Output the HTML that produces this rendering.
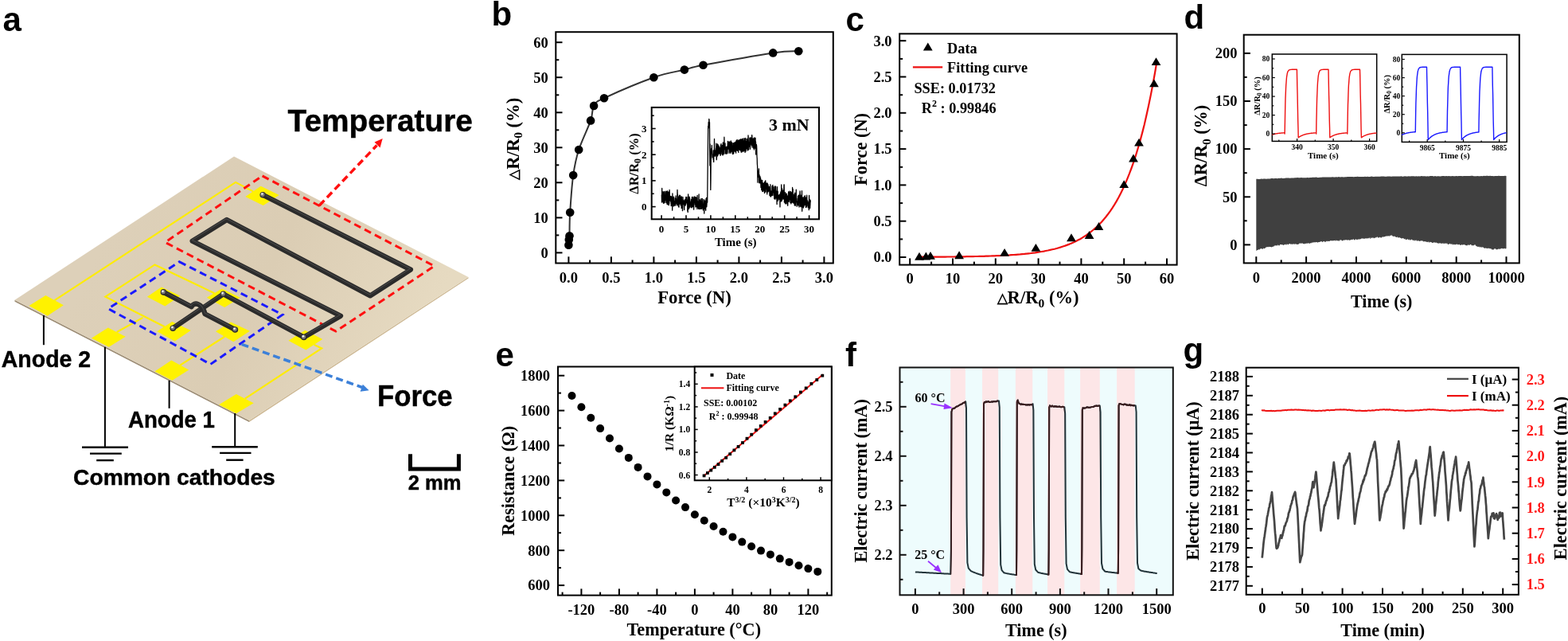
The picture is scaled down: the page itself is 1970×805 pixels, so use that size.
<!DOCTYPE html>
<html><head><meta charset="utf-8"><title>Figure</title>
<style>html,body{margin:0;padding:0;background:#fff;width:1970px;height:805px;overflow:hidden}svg{display:block}</style>
</head><body>
<svg width="1970" height="805" viewBox="0 0 1970 805">
<rect width="1970" height="805" fill="#fff"/>
<text x="3.5" y="38.5" font-family="'Liberation Sans',Arial,sans-serif" font-size="42" font-weight="bold" fill="#000" text-anchor="start" >a</text>
<text x="617.5" y="31.8" font-family="'Liberation Sans',Arial,sans-serif" font-size="42" font-weight="bold" fill="#000" text-anchor="start" >b</text>
<text x="1062.5" y="38.5" font-family="'Liberation Sans',Arial,sans-serif" font-size="42" font-weight="bold" fill="#000" text-anchor="start" >c</text>
<text x="1487.5" y="35.8" font-family="'Liberation Sans',Arial,sans-serif" font-size="42" font-weight="bold" fill="#000" text-anchor="start" >d</text>
<text x="622.5" y="459.5" font-family="'Liberation Sans',Arial,sans-serif" font-size="42" font-weight="bold" fill="#000" text-anchor="start" >e</text>
<text x="1062" y="459.8" font-family="'Liberation Sans',Arial,sans-serif" font-size="42" font-weight="bold" fill="#000" text-anchor="start" >f</text>
<text x="1486.5" y="453.5" font-family="'Liberation Sans',Arial,sans-serif" font-size="42" font-weight="bold" fill="#000" text-anchor="start" >g</text>
<polygon points="18.5,376.8 313,528 313,530 18.5,378.8" fill="#9c8c74" stroke="none" stroke-width="1" />
<polygon points="313,528 588.5,348 588.5,349.5 313,530" fill="#cdb894" stroke="none" stroke-width="1" />
<defs><linearGradient id="bd" gradientUnits="userSpaceOnUse" x1="150" y1="260" x2="520" y2="440"><stop offset="0" stop-color="#ddd0b9"/><stop offset="0.5" stop-color="#dbcdb4"/><stop offset="1" stop-color="#e6dac1"/></linearGradient></defs>
<polygon points="18.5,376.8 294,196.5 588.5,348 313,528" fill="url(#bd)" stroke="none" stroke-width="1" />
<path d="M68.6,377.1 L296.0,228.9 L318.0,240.4" stroke="#ffec00" stroke-width="2.2" fill="none" stroke-linejoin="miter"/>
<path d="M269.3,368.2 L194.5,332.4 L132.4,372.7 L206.7,410.2" stroke="#ffec00" stroke-width="2.2" fill="none" stroke-linejoin="miter"/>
<path d="M179.5,398.9 L146.8,417.0" stroke="#ffec00" stroke-width="2.2" fill="none" stroke-linejoin="miter"/>
<path d="M282.2,422.8 L226.3,458.6" stroke="#ffec00" stroke-width="2.2" fill="none" stroke-linejoin="miter"/>
<path d="M394.8,432.9 L404.2,437.5 L307.8,500.6" stroke="#ffec00" stroke-width="2.2" fill="none" stroke-linejoin="miter"/>
<polygon points="36.5,384 57.4,371 79.8,383.2 59.6,396.7" fill="#fff200" stroke="none" stroke-width="1" />
<polygon points="114.9,424.7 135.8,411.4 157.7,422.7 136.8,435.7" fill="#fff200" stroke="none" stroke-width="1" />
<polygon points="194.4,466.5 215.3,452.6 237.2,464.5 216.3,477.8" fill="#fff200" stroke="none" stroke-width="1" />
<polygon points="275,508.2 296.8,494.9 318.7,506.2 296.8,519.2" fill="#fff200" stroke="none" stroke-width="1" />
<polygon points="308.3,247.1 327.7,233.7 350.7,245 330.7,258.1" fill="#fff200" stroke="none" stroke-width="1" />
<polygon points="362.4,427.7 383.3,414.8 405.2,426.1 384.3,439.6" fill="#fff200" stroke="none" stroke-width="1" />
<polygon points="184.9,372.7 202.8,360.4 226.3,371.5 207.3,384.5" fill="#fff200" stroke="none" stroke-width="1" />
<polygon points="259.8,373.8 278.8,362.6 301.8,373.8 282.2,386.1" fill="#fff200" stroke="none" stroke-width="1" />
<polygon points="197.2,416.3 216.2,404 239.7,415.1 219.6,428.6" fill="#fff200" stroke="none" stroke-width="1" />
<polygon points="271,416.3 290,404.6 313.9,415.8 293.3,429.2" fill="#fff200" stroke="none" stroke-width="1" />
<polygon points="329.6,220.9 545.7,334.1 422,416.1 207.5,304.3" fill="none" stroke="#ff1010" stroke-width="3" stroke-dasharray="9,5.5"/>
<polygon points="225.3,328.7 355,395.2 264.5,457.4 136,387.7" fill="none" stroke="#1a1aff" stroke-width="3" stroke-dasharray="9,5.5"/>
<path d="M330.2,244.7 L515.9,338.6 L465.2,371.4 L284.9,276.0 L241.7,302.8 L428.0,396.7 L381.8,423.5" fill="none" stroke="#2b2b2b" stroke-width="6.3" stroke-linejoin="round" stroke-linecap="round"/>
<path d="M330.2,244.7 L515.9,338.6 L465.2,371.4 L284.9,276.0 L241.7,302.8 L428.0,396.7 L381.8,423.5" fill="none" stroke="#444" stroke-width="1.3" stroke-linejoin="round" stroke-linecap="round" transform="translate(-0.5,-1.4)"/>
<path d="M280.5,369.3 L381.8,423.5" fill="none" stroke="#2b2b2b" stroke-width="6.3" stroke-linejoin="round" stroke-linecap="round"/>
<path d="M280.5,369.3 L381.8,423.5" fill="none" stroke="#444" stroke-width="1.3" stroke-linejoin="round" stroke-linecap="round" transform="translate(-0.5,-1.4)"/>
<path d="M217.3,412.2 L280.5,369.3" fill="none" stroke="#2b2b2b" stroke-width="6.3" stroke-linejoin="round" stroke-linecap="round"/>
<path d="M217.3,412.2 L280.5,369.3" fill="none" stroke="#444" stroke-width="1.3" stroke-linejoin="round" stroke-linecap="round" transform="translate(-0.5,-1.4)"/>
<path d="M205.4,366.9 L240.5,385.3 C243.5,378.5 254,380.5 257.5,394.2 L295.4,414" fill="none" stroke="#2b2b2b" stroke-width="6.3" stroke-linejoin="round" stroke-linecap="round"/>
<path d="M205.4,366.9 L240.5,385.3 C243.5,378.5 254,380.5 257.5,394.2 L295.4,414" fill="none" stroke="#444" stroke-width="1.3" stroke-linejoin="round" stroke-linecap="round" transform="translate(-0.5,-1.4)"/>
<circle cx="330.2" cy="244.7" r="3.8" fill="#2e2e2e"/><circle cx="329.9" cy="244.29999999999998" r="2.6" fill="#7a7a7a"/><circle cx="329.3" cy="243.5" r="1.3" fill="#f4f4f4"/>
<circle cx="381.8" cy="423.5" r="3.8" fill="#2e2e2e"/><circle cx="381.5" cy="423.1" r="2.6" fill="#7a7a7a"/><circle cx="380.90000000000003" cy="422.3" r="1.3" fill="#f4f4f4"/>
<circle cx="205.4" cy="366.9" r="3.8" fill="#2e2e2e"/><circle cx="205.1" cy="366.5" r="2.6" fill="#7a7a7a"/><circle cx="204.5" cy="365.7" r="1.3" fill="#f4f4f4"/>
<circle cx="295.4" cy="414" r="3.8" fill="#2e2e2e"/><circle cx="295.09999999999997" cy="413.6" r="2.6" fill="#7a7a7a"/><circle cx="294.5" cy="412.8" r="1.3" fill="#f4f4f4"/>
<circle cx="217.3" cy="412.2" r="3.8" fill="#2e2e2e"/><circle cx="217.0" cy="411.8" r="2.6" fill="#7a7a7a"/><circle cx="216.4" cy="411.0" r="1.3" fill="#f4f4f4"/>
<circle cx="280.5" cy="369.3" r="3.8" fill="#2e2e2e"/><circle cx="280.2" cy="368.90000000000003" r="2.6" fill="#7a7a7a"/><circle cx="279.6" cy="368.1" r="1.3" fill="#f4f4f4"/>
<line x1="401.2" y1="258.1" x2="473.5" y2="182.5" stroke="#ff1010" stroke-width="3.5" stroke-dasharray="9,5"/>
<polygon points="480.7,174.1 470.5,178.6 477.5,185.5" fill="#ff1010"/>
<line x1="303.6" y1="432.4" x2="455" y2="486.5" stroke="#3c80d8" stroke-width="3.5" stroke-dasharray="9,5"/>
<polygon points="463.6,490.2 455.8,482.7 452.6,491.7" fill="#3c80d8"/>
<line x1="54.9" y1="396" x2="54.9" y2="433.2" stroke="#000" stroke-width="2" />
<line x1="131.9" y1="435.7" x2="131.9" y2="561.5" stroke="#000" stroke-width="2" />
<line x1="212.6" y1="477.8" x2="212.6" y2="512.8" stroke="#000" stroke-width="2" />
<line x1="295.2" y1="519" x2="295.2" y2="561.3" stroke="#000" stroke-width="2" />
<line x1="103" y1="561.7" x2="161" y2="561.7" stroke="#000" stroke-width="2.4" />
<line x1="113" y1="569.6" x2="152.8" y2="569.6" stroke="#000" stroke-width="2.4" />
<line x1="121.2" y1="578.1" x2="142.8" y2="578.1" stroke="#000" stroke-width="2.4" />
<line x1="266.2" y1="561.3" x2="323.8" y2="561.3" stroke="#000" stroke-width="2.4" />
<line x1="276.1" y1="568.9" x2="315.5" y2="568.9" stroke="#000" stroke-width="2.4" />
<line x1="284.2" y1="577.7" x2="305.6" y2="577.7" stroke="#000" stroke-width="2.4" />
<path d="M515.5,570.2 V589.1 H576.4 V570.2" fill="none" stroke="#000" stroke-width="5"/>
<text x="361.6" y="165.1" font-family="'Liberation Sans',Arial,sans-serif" font-size="39" font-weight="bold" fill="#000" text-anchor="start" textLength="232.3" lengthAdjust="spacingAndGlyphs" stroke="#000" stroke-width="0.45">Temperature</text>
<text x="474" y="509.7" font-family="'Liberation Sans',Arial,sans-serif" font-size="37.7" font-weight="bold" fill="#000" text-anchor="start" textLength="94.7" lengthAdjust="spacingAndGlyphs" stroke="#000" stroke-width="0.45">Force</text>
<text x="1.8" y="461.3" font-family="'Liberation Sans',Arial,sans-serif" font-size="29" font-weight="bold" fill="#000" text-anchor="start" textLength="112.3" lengthAdjust="spacingAndGlyphs" stroke="#000" stroke-width="0.45">Anode 2</text>
<text x="161" y="536.6" font-family="'Liberation Sans',Arial,sans-serif" font-size="29" font-weight="bold" fill="#000" text-anchor="start" textLength="108.9" lengthAdjust="spacingAndGlyphs" stroke="#000" stroke-width="0.45">Anode 1</text>
<text x="92.1" y="609.4" font-family="'Liberation Sans',Arial,sans-serif" font-size="28.5" font-weight="bold" fill="#000" text-anchor="start" textLength="253.7" lengthAdjust="spacingAndGlyphs" stroke="#000" stroke-width="0.45">Common cathodes</text>
<text x="512.8" y="614.6" font-family="'Liberation Sans',Arial,sans-serif" font-size="26.4" font-weight="bold" fill="#000" text-anchor="start" textLength="66.8" lengthAdjust="spacingAndGlyphs" stroke="#000" stroke-width="0.45">2 mm</text>
<path d="M715.5,296.3 C715.6,291.3 715.4,279.5 716.2,266.8 C717.0,254.1 718.3,233.2 720.2,220.1 C722.0,207.0 723.6,199.4 727.2,188.0 C730.9,176.5 739.0,160.6 742.1,151.4 C745.3,142.2 743.3,137.6 746.1,132.9 C748.9,128.2 746.5,129.2 759.0,123.2 C771.6,117.3 804.6,103.2 821.4,97.2 C838.2,91.3 849.6,90.1 859.9,87.6 C870.3,85.0 864.9,85.4 883.5,81.8 C902.0,78.3 951.2,69.4 971.2,66.4 C991.2,63.5 997.9,64.6 1003.3,64.2" fill="none" stroke="#333" stroke-width="2"/>
<circle cx="714.4" cy="307.7" r="5.3" fill="#000"/>
<circle cx="714.8" cy="300.9" r="5.3" fill="#000"/>
<circle cx="715.5" cy="296.3" r="5.3" fill="#000"/>
<circle cx="716.2" cy="266.8" r="5.3" fill="#000"/>
<circle cx="720.2" cy="220.1" r="5.3" fill="#000"/>
<circle cx="727.2" cy="188.0" r="5.3" fill="#000"/>
<circle cx="742.1" cy="151.4" r="5.3" fill="#000"/>
<circle cx="746.1" cy="132.9" r="5.3" fill="#000"/>
<circle cx="759.0" cy="123.2" r="5.3" fill="#000"/>
<circle cx="821.4" cy="97.2" r="5.3" fill="#000"/>
<circle cx="859.9" cy="87.6" r="5.3" fill="#000"/>
<circle cx="883.5" cy="81.8" r="5.3" fill="#000"/>
<circle cx="971.2" cy="66.4" r="5.3" fill="#000"/>
<circle cx="1003.3" cy="64.2" r="5.3" fill="#000"/>
<line x1="714.4" y1="330.5" x2="714.4" y2="322.3" stroke="#000" stroke-width="2" />
<line x1="767.9" y1="330.5" x2="767.9" y2="322.3" stroke="#000" stroke-width="2" />
<line x1="821.4" y1="330.5" x2="821.4" y2="322.3" stroke="#000" stroke-width="2" />
<line x1="874.9" y1="330.5" x2="874.9" y2="322.3" stroke="#000" stroke-width="2" />
<line x1="928.4" y1="330.5" x2="928.4" y2="322.3" stroke="#000" stroke-width="2" />
<line x1="981.9" y1="330.5" x2="981.9" y2="322.3" stroke="#000" stroke-width="2" />
<line x1="1035.4" y1="330.5" x2="1035.4" y2="322.3" stroke="#000" stroke-width="2" />
<line x1="741.1" y1="330.5" x2="741.1" y2="326.5" stroke="#000" stroke-width="2" />
<line x1="794.6" y1="330.5" x2="794.6" y2="326.5" stroke="#000" stroke-width="2" />
<line x1="848.1" y1="330.5" x2="848.1" y2="326.5" stroke="#000" stroke-width="2" />
<line x1="901.6" y1="330.5" x2="901.6" y2="326.5" stroke="#000" stroke-width="2" />
<line x1="955.1" y1="330.5" x2="955.1" y2="326.5" stroke="#000" stroke-width="2" />
<line x1="1008.6" y1="330.5" x2="1008.6" y2="326.5" stroke="#000" stroke-width="2" />
<line x1="698.3" y1="317.4" x2="706.5" y2="317.4" stroke="#000" stroke-width="2" />
<line x1="698.3" y1="273.4" x2="706.5" y2="273.4" stroke="#000" stroke-width="2" />
<line x1="698.3" y1="229.3" x2="706.5" y2="229.3" stroke="#000" stroke-width="2" />
<line x1="698.3" y1="185.3" x2="706.5" y2="185.3" stroke="#000" stroke-width="2" />
<line x1="698.3" y1="141.3" x2="706.5" y2="141.3" stroke="#000" stroke-width="2" />
<line x1="698.3" y1="97.2" x2="706.5" y2="97.2" stroke="#000" stroke-width="2" />
<line x1="698.3" y1="53.2" x2="706.5" y2="53.2" stroke="#000" stroke-width="2" />
<line x1="698.3" y1="295.4" x2="702.3" y2="295.4" stroke="#000" stroke-width="2" />
<line x1="698.3" y1="251.4" x2="702.3" y2="251.4" stroke="#000" stroke-width="2" />
<line x1="698.3" y1="207.3" x2="702.3" y2="207.3" stroke="#000" stroke-width="2" />
<line x1="698.3" y1="163.3" x2="702.3" y2="163.3" stroke="#000" stroke-width="2" />
<line x1="698.3" y1="119.3" x2="702.3" y2="119.3" stroke="#000" stroke-width="2" />
<line x1="698.3" y1="75.2" x2="702.3" y2="75.2" stroke="#000" stroke-width="2" />
<rect x="698.3" y="40.2" width="348.5" height="290.3" fill="none" stroke="#000" stroke-width="2"/>
<text x="688.7" y="323.7" font-family="'Liberation Serif','Times New Roman',serif" font-size="18.5" font-weight="bold" fill="#000" text-anchor="end" >0</text>
<text x="688.7" y="279.7" font-family="'Liberation Serif','Times New Roman',serif" font-size="18.5" font-weight="bold" fill="#000" text-anchor="end" >10</text>
<text x="688.7" y="235.6" font-family="'Liberation Serif','Times New Roman',serif" font-size="18.5" font-weight="bold" fill="#000" text-anchor="end" >20</text>
<text x="688.7" y="191.6" font-family="'Liberation Serif','Times New Roman',serif" font-size="18.5" font-weight="bold" fill="#000" text-anchor="end" >30</text>
<text x="688.7" y="147.6" font-family="'Liberation Serif','Times New Roman',serif" font-size="18.5" font-weight="bold" fill="#000" text-anchor="end" >40</text>
<text x="688.7" y="103.5" font-family="'Liberation Serif','Times New Roman',serif" font-size="18.5" font-weight="bold" fill="#000" text-anchor="end" >50</text>
<text x="688.7" y="59.5" font-family="'Liberation Serif','Times New Roman',serif" font-size="18.5" font-weight="bold" fill="#000" text-anchor="end" >60</text>
<text x="714.4" y="355" font-family="'Liberation Serif','Times New Roman',serif" font-size="18.5" font-weight="bold" fill="#000" text-anchor="middle" >0.0</text>
<text x="767.9" y="355" font-family="'Liberation Serif','Times New Roman',serif" font-size="18.5" font-weight="bold" fill="#000" text-anchor="middle" >0.5</text>
<text x="821.4" y="355" font-family="'Liberation Serif','Times New Roman',serif" font-size="18.5" font-weight="bold" fill="#000" text-anchor="middle" >1.0</text>
<text x="874.9" y="355" font-family="'Liberation Serif','Times New Roman',serif" font-size="18.5" font-weight="bold" fill="#000" text-anchor="middle" >1.5</text>
<text x="928.4" y="355" font-family="'Liberation Serif','Times New Roman',serif" font-size="18.5" font-weight="bold" fill="#000" text-anchor="middle" >2.0</text>
<text x="981.9" y="355" font-family="'Liberation Serif','Times New Roman',serif" font-size="18.5" font-weight="bold" fill="#000" text-anchor="middle" >2.5</text>
<text x="1035.4" y="355" font-family="'Liberation Serif','Times New Roman',serif" font-size="18.5" font-weight="bold" fill="#000" text-anchor="middle" >3.0</text>
<text x="872.5" y="381.2" font-family="'Liberation Serif','Times New Roman',serif" font-size="22.8" font-weight="bold" fill="#000" text-anchor="middle" >Force (N)</text>
<text transform="translate(651.7,174.3) rotate(-90)" font-family="'Liberation Serif','Times New Roman',serif" font-size="22.6" font-weight="bold" fill="#000" text-anchor="middle" ><tspan font-size="16.5" dy="-0.9">△</tspan><tspan dy="0.9">R/R</tspan><tspan dy="4.5" font-size="15.5">0</tspan><tspan dy="-4.5"> (%)</tspan></text>
<rect x="818.7" y="134.9" width="210.3" height="140.4" fill="#fff" stroke="#000" stroke-width="2"/>
<path d="M831.1,245.8 L831.3,244.8 L831.5,254.1 L831.7,236.4 L832.0,251.4 L832.2,247.4 L832.4,247.4 L832.6,253.0 L832.8,240.9 L833.0,243.1 L833.3,254.7 L833.5,245.8 L833.7,255.4 L833.9,248.0 L834.1,241.2 L834.3,240.5 L834.6,242.7 L834.8,240.4 L835.0,254.8 L835.2,252.8 L835.4,249.1 L835.6,251.5 L835.9,250.1 L836.1,246.8 L836.3,241.5 L836.5,241.1 L836.7,240.1 L836.9,254.3 L837.2,240.7 L837.4,247.5 L837.6,253.7 L837.8,247.6 L838.0,256.3 L838.2,240.6 L838.5,239.8 L838.7,255.0 L838.9,244.6 L839.1,257.0 L839.3,257.0 L839.5,252.2 L839.8,241.2 L840.0,241.0 L840.2,256.7 L840.4,257.5 L840.6,251.2 L840.8,255.5 L841.1,238.5 L841.3,242.0 L841.5,252.0 L841.7,249.6 L841.9,248.4 L842.1,248.0 L842.4,250.0 L842.6,246.4 L842.8,253.6 L843.0,249.9 L843.2,258.6 L843.4,249.0 L843.7,246.9 L843.9,258.0 L844.1,251.1 L844.3,253.1 L844.5,246.6 L844.7,264.2 L844.9,242.9 L845.2,251.6 L845.4,253.9 L845.6,254.1 L845.8,249.4 L846.0,253.1 L846.2,259.1 L846.5,247.1 L846.7,255.9 L846.9,255.7 L847.1,252.4 L847.3,258.1 L847.5,254.2 L847.8,252.5 L848.0,257.1 L848.2,249.0 L848.4,252.4 L848.6,258.1 L848.8,256.9 L849.1,246.0 L849.3,255.5 L849.5,249.4 L849.7,254.5 L849.9,255.4 L850.1,255.8 L850.4,253.4 L850.6,253.6 L850.8,257.9 L851.0,238.5 L851.2,243.9 L851.4,244.5 L851.7,257.0 L851.9,246.6 L852.1,252.0 L852.3,255.1 L852.5,259.7 L852.7,256.1 L853.0,260.2 L853.2,249.2 L853.4,245.8 L853.6,251.3 L853.8,245.1 L854.0,256.1 L854.3,252.3 L854.5,245.3 L854.7,255.5 L854.9,246.7 L855.1,248.1 L855.3,258.1 L855.6,247.6 L855.8,248.0 L856.0,247.8 L856.2,261.4 L856.4,246.9 L856.6,260.1 L856.9,252.7 L857.1,253.7 L857.3,261.7 L857.5,264.7 L857.7,260.7 L857.9,247.3 L858.2,253.3 L858.4,256.6 L858.6,251.0 L858.8,255.9 L859.0,256.4 L859.2,252.6 L859.4,255.6 L859.7,263.5 L859.9,251.9 L860.1,255.7 L860.3,251.6 L860.5,255.9 L860.7,250.3 L861.0,250.5 L861.2,258.2 L861.4,250.6 L861.6,256.2 L861.8,247.5 L862.0,256.1 L862.3,249.0 L862.5,254.6 L862.7,248.7 L862.9,247.5 L863.1,251.3 L863.3,253.1 L863.6,251.5 L863.8,265.1 L864.0,262.0 L864.2,266.5 L864.4,259.7 L864.6,243.9 L864.9,248.5 L865.1,248.7 L865.3,253.1 L865.5,262.3 L865.7,254.3 L865.9,261.2 L866.2,247.1 L866.4,259.9 L866.6,249.0 L866.8,260.0 L867.0,252.6 L867.2,256.4 L867.5,256.4 L867.7,256.1 L867.9,254.7 L868.1,256.2 L868.3,260.5 L868.5,250.4 L868.8,254.5 L869.0,252.4 L869.2,260.8 L869.4,247.3 L869.6,254.6 L869.8,251.2 L870.1,258.9 L870.3,253.5 L870.5,259.6 L870.7,247.3 L870.9,251.6 L871.1,249.1 L871.4,259.0 L871.6,263.2 L871.8,257.1 L872.0,257.5 L872.2,250.5 L872.4,246.8 L872.6,253.5 L872.9,249.6 L873.1,254.3 L873.3,251.5 L873.5,257.0 L873.7,247.5 L873.9,259.9 L874.2,251.7 L874.4,247.6 L874.6,259.8 L874.8,259.5 L875.0,252.0 L875.2,248.7 L875.5,249.3 L875.7,256.8 L875.9,262.6 L876.1,245.3 L876.3,258.0 L876.5,252.6 L876.8,260.7 L877.0,255.9 L877.2,254.2 L877.4,257.5 L877.6,262.2 L877.8,252.9 L878.1,243.9 L878.3,262.6 L878.5,257.9 L878.7,251.4 L878.9,252.8 L879.1,250.6 L879.4,251.5 L879.6,252.9 L879.8,262.4 L880.0,258.4 L880.2,252.9 L880.4,261.3 L880.7,253.7 L880.9,249.3 L881.1,262.4 L881.3,262.1 L881.5,252.2 L881.7,255.1 L882.0,256.7 L882.2,261.5 L882.4,249.4 L882.6,255.3 L882.8,258.5 L883.0,258.1 L883.3,263.9 L883.5,260.4 L883.7,258.6 L883.9,257.8 L884.1,251.6 L884.3,250.3 L884.6,263.2 L884.8,268.1 L885.0,252.4 L885.2,261.5 L885.4,252.1 L885.6,252.0 L885.9,262.3 L886.1,261.5 L886.3,255.2 L886.5,260.6 L886.7,264.3 L886.9,249.7 L887.1,258.4 L887.4,255.0 L887.6,248.3 L887.8,259.8 L888.0,256.7 L888.2,252.6 L888.4,248.2 L888.7,254.2 L888.9,235.4 L889.1,216.3 L889.3,197.5 L889.5,178.8 L889.7,158.3 L890.0,159.7 L890.2,153.3 L890.4,158.3 L890.6,160.5 L890.8,149.3 L891.0,150.1 L891.3,159.7 L891.5,153.6 L891.7,190.9 L891.9,207.9 L892.1,181.0 L892.3,203.6 L892.6,201.4 L892.8,238.4 L893.0,225.4 L893.2,200.9 L893.4,199.0 L893.6,186.7 L893.9,189.8 L894.1,190.9 L894.3,182.4 L894.5,191.4 L894.7,188.6 L894.9,193.8 L895.2,197.9 L895.4,195.0 L895.6,194.1 L895.8,194.5 L896.0,194.5 L896.2,200.8 L896.5,189.0 L896.7,203.4 L896.9,190.3 L897.1,196.3 L897.3,190.4 L897.5,174.4 L897.8,195.5 L898.0,194.2 L898.2,191.1 L898.4,196.1 L898.6,192.2 L898.8,189.0 L899.1,191.7 L899.3,192.3 L899.5,186.1 L899.7,195.1 L899.9,180.2 L900.1,196.6 L900.3,200.7 L900.6,196.0 L900.8,183.3 L901.0,193.1 L901.2,188.4 L901.4,180.8 L901.6,195.8 L901.9,186.0 L902.1,194.8 L902.3,181.8 L902.5,191.1 L902.7,184.7 L902.9,193.2 L903.2,183.7 L903.4,186.7 L903.6,189.9 L903.8,192.1 L904.0,187.8 L904.2,193.1 L904.5,185.6 L904.7,189.3 L904.9,193.2 L905.1,195.4 L905.3,182.9 L905.5,194.1 L905.8,181.3 L906.0,180.7 L906.2,188.0 L906.4,183.1 L906.6,189.2 L906.8,190.1 L907.1,193.7 L907.3,193.6 L907.5,182.3 L907.7,194.5 L907.9,184.4 L908.1,195.1 L908.4,178.8 L908.6,185.6 L908.8,181.9 L909.0,181.7 L909.2,191.9 L909.4,193.7 L909.7,193.1 L909.9,172.2 L910.1,179.8 L910.3,187.5 L910.5,180.8 L910.7,183.9 L911.0,180.0 L911.2,184.5 L911.4,192.8 L911.6,184.6 L911.8,191.1 L912.0,186.7 L912.3,193.3 L912.5,186.3 L912.7,184.4 L912.9,187.3 L913.1,184.1 L913.3,188.4 L913.6,188.6 L913.8,192.9 L914.0,191.5 L914.2,181.9 L914.4,177.4 L914.6,178.3 L914.8,187.0 L915.1,178.7 L915.3,185.8 L915.5,187.1 L915.7,178.3 L915.9,178.1 L916.1,192.3 L916.4,188.9 L916.6,183.0 L916.8,177.8 L917.0,186.4 L917.2,181.1 L917.4,188.8 L917.7,191.3 L917.9,192.3 L918.1,180.6 L918.3,176.9 L918.5,178.6 L918.7,190.7 L919.0,185.5 L919.2,184.2 L919.4,178.8 L919.6,185.4 L919.8,179.5 L920.0,189.1 L920.3,193.0 L920.5,184.1 L920.7,190.3 L920.9,193.6 L921.1,185.1 L921.3,179.6 L921.6,192.4 L921.8,192.7 L922.0,187.1 L922.2,182.9 L922.4,190.1 L922.6,179.1 L922.9,188.3 L923.1,186.4 L923.3,181.2 L923.5,178.9 L923.7,190.3 L923.9,179.1 L924.2,178.4 L924.4,187.7 L924.6,192.2 L924.8,177.2 L925.0,184.4 L925.2,176.5 L925.5,182.0 L925.7,183.4 L925.9,189.1 L926.1,175.3 L926.3,185.2 L926.5,184.4 L926.8,184.4 L927.0,189.4 L927.2,183.1 L927.4,177.5 L927.6,176.1 L927.8,191.4 L928.0,182.5 L928.3,187.1 L928.5,176.3 L928.7,178.1 L928.9,182.9 L929.1,175.3 L929.3,188.3 L929.6,188.5 L929.8,177.5 L930.0,186.9 L930.2,175.4 L930.4,184.8 L930.6,189.2 L930.9,174.7 L931.1,191.1 L931.3,189.9 L931.5,178.6 L931.7,180.5 L931.9,191.1 L932.2,174.8 L932.4,189.7 L932.6,186.5 L932.8,190.2 L933.0,174.7 L933.2,175.6 L933.5,174.0 L933.7,179.9 L933.9,189.9 L934.1,187.8 L934.3,176.8 L934.5,189.9 L934.8,181.6 L935.0,188.8 L935.2,173.8 L935.4,188.3 L935.6,188.4 L935.8,174.9 L936.1,191.4 L936.3,173.5 L936.5,186.2 L936.7,174.2 L936.9,178.4 L937.1,189.9 L937.4,177.5 L937.6,180.5 L937.8,181.0 L938.0,181.0 L938.2,186.7 L938.4,174.2 L938.7,187.0 L938.9,175.7 L939.1,185.4 L939.3,189.0 L939.5,182.9 L939.7,187.9 L940.0,170.0 L940.2,172.9 L940.4,180.8 L940.6,188.1 L940.8,182.1 L941.0,179.4 L941.3,181.0 L941.5,184.1 L941.7,179.3 L941.9,173.5 L942.1,175.2 L942.3,172.8 L942.5,187.3 L942.8,176.9 L943.0,178.3 L943.2,172.8 L943.4,181.1 L943.6,174.3 L943.8,180.1 L944.1,178.6 L944.3,182.8 L944.5,175.8 L944.7,169.6 L944.9,172.3 L945.1,185.2 L945.4,173.8 L945.6,174.1 L945.8,182.6 L946.0,180.2 L946.2,182.4 L946.4,173.8 L946.7,186.2 L946.9,182.3 L947.1,186.2 L947.3,185.5 L947.5,188.0 L947.7,172.8 L948.0,175.9 L948.2,174.1 L948.4,180.8 L948.6,186.2 L948.8,181.8 L949.0,173.1 L949.3,185.0 L949.5,178.0 L949.7,194.1 L949.9,188.0 L950.1,184.9 L950.3,181.4 L950.6,183.2 L950.8,187.4 L951.0,196.8 L951.2,198.7 L951.4,206.3 L951.6,208.2 L951.9,229.2 L952.1,219.3 L952.3,214.7 L952.5,220.6 L952.7,215.2 L952.9,222.3 L953.2,218.2 L953.4,211.9 L953.6,221.8 L953.8,229.7 L954.0,219.4 L954.2,227.5 L954.5,223.3 L954.7,229.9 L954.9,221.4 L955.1,226.9 L955.3,229.8 L955.5,223.2 L955.7,226.1 L956.0,235.6 L956.2,233.0 L956.4,226.3 L956.6,226.1 L956.8,238.7 L957.0,234.0 L957.3,237.8 L957.5,232.5 L957.7,226.4 L957.9,240.6 L958.1,234.9 L958.3,237.5 L958.6,229.8 L958.8,240.3 L959.0,234.6 L959.2,238.2 L959.4,238.9 L959.6,232.1 L959.9,229.8 L960.1,233.6 L960.3,232.2 L960.5,242.5 L960.7,228.4 L960.9,233.5 L961.2,228.0 L961.4,240.1 L961.6,226.8 L961.8,226.8 L962.0,241.3 L962.2,238.6 L962.5,234.5 L962.7,235.2 L962.9,236.6 L963.1,229.9 L963.3,236.6 L963.5,230.9 L963.8,243.9 L964.0,236.0 L964.2,230.1 L964.4,236.4 L964.6,231.4 L964.8,241.1 L965.1,231.9 L965.3,240.3 L965.5,236.6 L965.7,234.5 L965.9,240.1 L966.1,236.5 L966.4,234.3 L966.6,240.3 L966.8,240.2 L967.0,245.6 L967.2,239.4 L967.4,238.8 L967.7,246.1 L967.9,231.7 L968.1,239.0 L968.3,247.1 L968.5,242.8 L968.7,246.4 L968.9,240.2 L969.2,244.1 L969.4,245.5 L969.6,239.9 L969.8,245.1 L970.0,235.2 L970.2,233.3 L970.5,234.1 L970.7,245.5 L970.9,232.4 L971.1,236.3 L971.3,238.0 L971.5,240.9 L971.8,234.7 L972.0,241.2 L972.2,242.7 L972.4,245.8 L972.6,240.1 L972.8,249.7 L973.1,239.4 L973.3,237.4 L973.5,234.0 L973.7,238.1 L973.9,250.3 L974.1,238.0 L974.4,247.7 L974.6,234.1 L974.8,242.9 L975.0,248.9 L975.2,239.9 L975.4,248.9 L975.7,240.8 L975.9,249.5 L976.1,256.5 L976.3,245.2 L976.5,234.7 L976.7,247.7 L977.0,252.4 L977.2,240.2 L977.4,252.0 L977.6,246.9 L977.8,251.0 L978.0,246.0 L978.3,245.1 L978.5,247.3 L978.7,245.1 L978.9,247.1 L979.1,246.0 L979.3,250.4 L979.6,243.8 L979.8,248.4 L980.0,259.9 L980.2,250.3 L980.4,249.1 L980.6,243.3 L980.9,241.0 L981.1,246.5 L981.3,253.0 L981.5,245.4 L981.7,231.9 L981.9,243.4 L982.2,252.2 L982.4,251.6 L982.6,237.0 L982.8,245.9 L983.0,250.4 L983.2,247.5 L983.4,246.9 L983.7,239.5 L983.9,239.1 L984.1,240.7 L984.3,246.9 L984.5,249.9 L984.7,244.3 L985.0,231.8 L985.2,231.9 L985.4,254.1 L985.6,246.3 L985.8,246.7 L986.0,254.3 L986.3,246.8 L986.5,255.8 L986.7,241.6 L986.9,248.6 L987.1,246.2 L987.3,248.0 L987.6,255.8 L987.8,243.3 L988.0,248.0 L988.2,250.1 L988.4,243.4 L988.6,248.2 L988.9,250.7 L989.1,256.2 L989.3,246.0 L989.5,253.6 L989.7,258.3 L989.9,252.5 L990.2,247.1 L990.4,249.5 L990.6,240.9 L990.8,250.8 L991.0,252.5 L991.2,253.3 L991.5,246.7 L991.7,244.6 L991.9,240.2 L992.1,250.9 L992.3,250.0 L992.5,250.7 L992.8,245.1 L993.0,254.4 L993.2,243.7 L993.4,240.6 L993.6,244.3 L993.8,255.9 L994.1,241.4 L994.3,243.0 L994.5,250.5 L994.7,254.5 L994.9,250.9 L995.1,250.5 L995.4,253.9 L995.6,235.4 L995.8,251.7 L996.0,253.6 L996.2,237.5 L996.4,254.8 L996.6,254.7 L996.9,252.9 L997.1,255.0 L997.3,249.0 L997.5,250.0 L997.7,244.2 L997.9,245.7 L998.2,257.8 L998.4,255.5 L998.6,242.1 L998.8,243.1 L999.0,257.2 L999.2,258.3 L999.5,254.7 L999.7,242.7 L999.9,243.2 L1000.1,247.8 L1000.3,238.1 L1000.5,253.5 L1000.8,249.2 L1001.0,257.5 L1001.2,259.3 L1001.4,253.7 L1001.6,254.0 L1001.8,256.9 L1002.1,252.7 L1002.3,254.8 L1002.5,246.3 L1002.7,246.5 L1002.9,258.0 L1003.1,245.2 L1003.4,253.4 L1003.6,245.3 L1003.8,253.9 L1004.0,260.1 L1004.2,251.9 L1004.4,252.4 L1004.7,247.8 L1004.9,243.1 L1005.1,240.0 L1005.3,246.5 L1005.5,259.2 L1005.7,245.8 L1006.0,245.2 L1006.2,259.8 L1006.4,258.9 L1006.6,252.8 L1006.8,246.8 L1007.0,248.9 L1007.3,251.2 L1007.5,239.7 L1007.7,265.3 L1007.9,256.1 L1008.1,260.5 L1008.3,248.4 L1008.6,251.9 L1008.8,257.4 L1009.0,248.1 L1009.2,247.7 L1009.4,261.0 L1009.6,251.8 L1009.9,257.5 L1010.1,259.1 L1010.3,253.5 L1010.5,249.6 L1010.7,248.6 L1010.9,246.3 L1011.1,257.4 L1011.4,245.7 L1011.6,254.7 L1011.8,249.3 L1012.0,255.7 L1012.2,248.0 L1012.4,260.4 L1012.7,248.9 L1012.9,254.6 L1013.1,254.2 L1013.3,260.1 L1013.5,251.3 L1013.7,245.2 L1014.0,253.9 L1014.2,251.4 L1014.4,253.3 L1014.6,253.4 L1014.8,258.7 L1015.0,256.8 L1015.3,260.8 L1015.5,254.3 L1015.7,258.6 L1015.9,259.9 L1016.1,252.1 L1016.3,263.7 L1016.6,245.4 L1016.8,252.3 L1017.0,250.7 L1017.2,250.5 L1017.4,255.5 L1017.6,261.7 L1017.9,256.8 L1018.1,251.5 L1018.3,253.8" fill="none" stroke="#000" stroke-width="1.3" stroke-linejoin="round" />
<line x1="831.1" y1="275.3" x2="831.1" y2="270.3" stroke="#000" stroke-width="1.6" />
<line x1="862" y1="275.3" x2="862" y2="270.3" stroke="#000" stroke-width="1.6" />
<line x1="892.9" y1="275.3" x2="892.9" y2="270.3" stroke="#000" stroke-width="1.6" />
<line x1="923.8" y1="275.3" x2="923.8" y2="270.3" stroke="#000" stroke-width="1.6" />
<line x1="954.8" y1="275.3" x2="954.8" y2="270.3" stroke="#000" stroke-width="1.6" />
<line x1="985.7" y1="275.3" x2="985.7" y2="270.3" stroke="#000" stroke-width="1.6" />
<line x1="1016.6" y1="275.3" x2="1016.6" y2="270.3" stroke="#000" stroke-width="1.6" />
<line x1="846.6" y1="275.3" x2="846.6" y2="272.3" stroke="#000" stroke-width="1.6" />
<line x1="877.5" y1="275.3" x2="877.5" y2="272.3" stroke="#000" stroke-width="1.6" />
<line x1="908.4" y1="275.3" x2="908.4" y2="272.3" stroke="#000" stroke-width="1.6" />
<line x1="939.3" y1="275.3" x2="939.3" y2="272.3" stroke="#000" stroke-width="1.6" />
<line x1="970.2" y1="275.3" x2="970.2" y2="272.3" stroke="#000" stroke-width="1.6" />
<line x1="1001.1" y1="275.3" x2="1001.1" y2="272.3" stroke="#000" stroke-width="1.6" />
<line x1="818.7" y1="259.6" x2="823.7" y2="259.6" stroke="#000" stroke-width="1.6" />
<line x1="818.7" y1="226.9" x2="823.7" y2="226.9" stroke="#000" stroke-width="1.6" />
<line x1="818.7" y1="194.2" x2="823.7" y2="194.2" stroke="#000" stroke-width="1.6" />
<line x1="818.7" y1="161.5" x2="823.7" y2="161.5" stroke="#000" stroke-width="1.6" />
<line x1="818.7" y1="243.3" x2="821.7" y2="243.3" stroke="#000" stroke-width="1.6" />
<line x1="818.7" y1="210.6" x2="821.7" y2="210.6" stroke="#000" stroke-width="1.6" />
<line x1="818.7" y1="177.9" x2="821.7" y2="177.9" stroke="#000" stroke-width="1.6" />
<line x1="818.7" y1="145.2" x2="821.7" y2="145.2" stroke="#000" stroke-width="1.6" />
<text x="812.4" y="264.1" font-family="'Liberation Serif','Times New Roman',serif" font-size="13" font-weight="bold" fill="#000" text-anchor="end" >0</text>
<text x="812.4" y="231.4" font-family="'Liberation Serif','Times New Roman',serif" font-size="13" font-weight="bold" fill="#000" text-anchor="end" >1</text>
<text x="812.4" y="198.7" font-family="'Liberation Serif','Times New Roman',serif" font-size="13" font-weight="bold" fill="#000" text-anchor="end" >2</text>
<text x="812.4" y="166" font-family="'Liberation Serif','Times New Roman',serif" font-size="13" font-weight="bold" fill="#000" text-anchor="end" >3</text>
<text x="831.1" y="292.3" font-family="'Liberation Serif','Times New Roman',serif" font-size="13" font-weight="bold" fill="#000" text-anchor="middle" >0</text>
<text x="862" y="292.3" font-family="'Liberation Serif','Times New Roman',serif" font-size="13" font-weight="bold" fill="#000" text-anchor="middle" >5</text>
<text x="892.9" y="292.3" font-family="'Liberation Serif','Times New Roman',serif" font-size="13" font-weight="bold" fill="#000" text-anchor="middle" >10</text>
<text x="923.8" y="292.3" font-family="'Liberation Serif','Times New Roman',serif" font-size="13" font-weight="bold" fill="#000" text-anchor="middle" >15</text>
<text x="954.8" y="292.3" font-family="'Liberation Serif','Times New Roman',serif" font-size="13" font-weight="bold" fill="#000" text-anchor="middle" >20</text>
<text x="985.7" y="292.3" font-family="'Liberation Serif','Times New Roman',serif" font-size="13" font-weight="bold" fill="#000" text-anchor="middle" >25</text>
<text x="1016.6" y="292.3" font-family="'Liberation Serif','Times New Roman',serif" font-size="13" font-weight="bold" fill="#000" text-anchor="middle" >30</text>
<text x="924.2" y="309.3" font-family="'Liberation Serif','Times New Roman',serif" font-size="15" font-weight="bold" fill="#000" text-anchor="middle" >Time (s)</text>
<text transform="translate(801.7,205.5) rotate(-90)" font-family="'Liberation Serif','Times New Roman',serif" font-size="16.5" font-weight="bold" fill="#000" text-anchor="middle" >ΔR/R<tspan dy="3.5" font-size="12">0</tspan><tspan dy="-3.5"> (%)</tspan></text>
<text x="966" y="163.5" font-family="'Liberation Serif','Times New Roman',serif" font-size="22" font-weight="bold" fill="#000" text-anchor="start" >3 mN</text>
<path d="M1155.3,322.8 L1158.0,322.7 L1160.7,322.7 L1163.4,322.7 L1166.1,322.7 L1168.8,322.7 L1171.4,322.7 L1174.1,322.7 L1176.8,322.6 L1179.5,322.6 L1182.2,322.6 L1184.9,322.6 L1187.6,322.6 L1190.3,322.5 L1193.0,322.5 L1195.7,322.5 L1198.3,322.5 L1201.0,322.4 L1203.7,322.4 L1206.4,322.4 L1209.1,322.3 L1211.8,322.3 L1214.5,322.2 L1217.2,322.2 L1219.9,322.1 L1222.6,322.1 L1225.2,322.0 L1227.9,322.0 L1230.6,321.9 L1233.3,321.8 L1236.0,321.8 L1238.7,321.7 L1241.4,321.6 L1244.1,321.5 L1246.8,321.4 L1249.5,321.3 L1252.1,321.2 L1254.8,321.1 L1257.5,321.0 L1260.2,320.8 L1262.9,320.7 L1265.6,320.5 L1268.3,320.4 L1271.0,320.2 L1273.7,320.0 L1276.4,319.8 L1279.0,319.6 L1281.7,319.4 L1284.4,319.1 L1287.1,318.9 L1289.8,318.6 L1292.5,318.3 L1295.2,318.0 L1297.9,317.6 L1300.6,317.3 L1303.3,316.9 L1305.9,316.5 L1308.6,316.0 L1311.3,315.6 L1314.0,315.0 L1316.7,314.5 L1319.4,313.9 L1322.1,313.3 L1324.8,312.7 L1327.5,312.0 L1330.2,311.2 L1332.8,310.4 L1335.5,309.5 L1338.2,308.6 L1340.9,307.6 L1343.6,306.6 L1346.3,305.5 L1349.0,304.3 L1351.7,303.0 L1354.4,301.6 L1357.1,300.2 L1359.7,298.6 L1362.4,296.9 L1365.1,295.2 L1367.8,293.2 L1370.5,291.2 L1373.2,289.0 L1375.9,286.7 L1378.6,284.2 L1381.3,281.6 L1384.0,278.7 L1386.6,275.7 L1389.3,272.5 L1392.0,269.0 L1394.7,265.3 L1397.4,261.3 L1400.1,257.1 L1402.8,252.6 L1405.5,247.8 L1408.2,242.6 L1410.9,237.1 L1413.5,231.2 L1416.2,224.9 L1418.9,218.2 L1421.6,211.0 L1424.3,203.3 L1427.0,195.1 L1429.7,186.3 L1432.4,176.9 L1435.1,166.9 L1437.8,156.2 L1440.4,144.7 L1443.1,132.5 L1445.8,119.4 L1448.5,105.5 L1451.2,90.5 L1453.2,78.8" fill="none" stroke="#ee1111" stroke-width="2.2" stroke-linejoin="round" />
<polygon points="1155.0,316.8 1160.9,326.7 1149.1,326.7" fill="#000"/>
<polygon points="1163.4,316.5 1169.3,326.4 1157.5,326.4" fill="#000"/>
<polygon points="1169.0,315.9 1174.9,325.8 1163.1,325.8" fill="#000"/>
<polygon points="1205.1,315.3 1211.0,325.2 1199.2,325.2" fill="#000"/>
<polygon points="1262.1,311.9 1268.0,321.8 1256.2,321.8" fill="#000"/>
<polygon points="1301.4,305.9 1307.3,315.8 1295.5,315.8" fill="#000"/>
<polygon points="1346.0,293.3 1351.9,303.3 1340.1,303.3" fill="#000"/>
<polygon points="1368.6,290.0 1374.5,299.9 1362.7,299.9" fill="#000"/>
<polygon points="1380.5,279.0 1386.3,288.9 1374.6,288.9" fill="#000"/>
<polygon points="1412.2,226.2 1418.1,236.1 1406.3,236.1" fill="#000"/>
<polygon points="1424.0,193.6 1429.9,203.5 1418.1,203.5" fill="#000"/>
<polygon points="1431.0,173.7 1436.9,183.6 1425.1,183.6" fill="#000"/>
<polygon points="1449.9,99.4 1455.8,109.3 1444.0,109.3" fill="#000"/>
<polygon points="1452.5,72.2 1458.4,82.1 1446.7,82.1" fill="#000"/>
<line x1="1143.2" y1="332.6" x2="1143.2" y2="324.4" stroke="#000" stroke-width="2" />
<line x1="1197" y1="332.6" x2="1197" y2="324.4" stroke="#000" stroke-width="2" />
<line x1="1250.8" y1="332.6" x2="1250.8" y2="324.4" stroke="#000" stroke-width="2" />
<line x1="1304.6" y1="332.6" x2="1304.6" y2="324.4" stroke="#000" stroke-width="2" />
<line x1="1358.4" y1="332.6" x2="1358.4" y2="324.4" stroke="#000" stroke-width="2" />
<line x1="1412.2" y1="332.6" x2="1412.2" y2="324.4" stroke="#000" stroke-width="2" />
<line x1="1466" y1="332.6" x2="1466" y2="324.4" stroke="#000" stroke-width="2" />
<line x1="1170.1" y1="332.6" x2="1170.1" y2="328.6" stroke="#000" stroke-width="2" />
<line x1="1223.9" y1="332.6" x2="1223.9" y2="328.6" stroke="#000" stroke-width="2" />
<line x1="1277.7" y1="332.6" x2="1277.7" y2="328.6" stroke="#000" stroke-width="2" />
<line x1="1331.5" y1="332.6" x2="1331.5" y2="328.6" stroke="#000" stroke-width="2" />
<line x1="1385.3" y1="332.6" x2="1385.3" y2="328.6" stroke="#000" stroke-width="2" />
<line x1="1439.1" y1="332.6" x2="1439.1" y2="328.6" stroke="#000" stroke-width="2" />
<line x1="1130.2" y1="323" x2="1138.4" y2="323" stroke="#000" stroke-width="2" />
<line x1="1130.2" y1="277.7" x2="1138.4" y2="277.7" stroke="#000" stroke-width="2" />
<line x1="1130.2" y1="232.4" x2="1138.4" y2="232.4" stroke="#000" stroke-width="2" />
<line x1="1130.2" y1="187.1" x2="1138.4" y2="187.1" stroke="#000" stroke-width="2" />
<line x1="1130.2" y1="141.8" x2="1138.4" y2="141.8" stroke="#000" stroke-width="2" />
<line x1="1130.2" y1="96.5" x2="1138.4" y2="96.5" stroke="#000" stroke-width="2" />
<line x1="1130.2" y1="51.2" x2="1138.4" y2="51.2" stroke="#000" stroke-width="2" />
<line x1="1130.2" y1="300.4" x2="1134.2" y2="300.4" stroke="#000" stroke-width="2" />
<line x1="1130.2" y1="255.1" x2="1134.2" y2="255.1" stroke="#000" stroke-width="2" />
<line x1="1130.2" y1="209.8" x2="1134.2" y2="209.8" stroke="#000" stroke-width="2" />
<line x1="1130.2" y1="164.5" x2="1134.2" y2="164.5" stroke="#000" stroke-width="2" />
<line x1="1130.2" y1="119.2" x2="1134.2" y2="119.2" stroke="#000" stroke-width="2" />
<line x1="1130.2" y1="73.9" x2="1134.2" y2="73.9" stroke="#000" stroke-width="2" />
<rect x="1130.2" y="42.4" width="348.4" height="290.2" fill="none" stroke="#000" stroke-width="2"/>
<text x="1120.6" y="329.3" font-family="'Liberation Serif','Times New Roman',serif" font-size="18.5" font-weight="bold" fill="#000" text-anchor="end" >0.0</text>
<text x="1120.6" y="284" font-family="'Liberation Serif','Times New Roman',serif" font-size="18.5" font-weight="bold" fill="#000" text-anchor="end" >0.5</text>
<text x="1120.6" y="238.7" font-family="'Liberation Serif','Times New Roman',serif" font-size="18.5" font-weight="bold" fill="#000" text-anchor="end" >1.0</text>
<text x="1120.6" y="193.4" font-family="'Liberation Serif','Times New Roman',serif" font-size="18.5" font-weight="bold" fill="#000" text-anchor="end" >1.5</text>
<text x="1120.6" y="148.1" font-family="'Liberation Serif','Times New Roman',serif" font-size="18.5" font-weight="bold" fill="#000" text-anchor="end" >2.0</text>
<text x="1120.6" y="102.8" font-family="'Liberation Serif','Times New Roman',serif" font-size="18.5" font-weight="bold" fill="#000" text-anchor="end" >2.5</text>
<text x="1120.6" y="57.5" font-family="'Liberation Serif','Times New Roman',serif" font-size="18.5" font-weight="bold" fill="#000" text-anchor="end" >3.0</text>
<text x="1143.2" y="355.8" font-family="'Liberation Serif','Times New Roman',serif" font-size="18.5" font-weight="bold" fill="#000" text-anchor="middle" >0</text>
<text x="1197" y="355.8" font-family="'Liberation Serif','Times New Roman',serif" font-size="18.5" font-weight="bold" fill="#000" text-anchor="middle" >10</text>
<text x="1250.8" y="355.8" font-family="'Liberation Serif','Times New Roman',serif" font-size="18.5" font-weight="bold" fill="#000" text-anchor="middle" >20</text>
<text x="1304.6" y="355.8" font-family="'Liberation Serif','Times New Roman',serif" font-size="18.5" font-weight="bold" fill="#000" text-anchor="middle" >30</text>
<text x="1358.4" y="355.8" font-family="'Liberation Serif','Times New Roman',serif" font-size="18.5" font-weight="bold" fill="#000" text-anchor="middle" >40</text>
<text x="1412.2" y="355.8" font-family="'Liberation Serif','Times New Roman',serif" font-size="18.5" font-weight="bold" fill="#000" text-anchor="middle" >50</text>
<text x="1466" y="355.8" font-family="'Liberation Serif','Times New Roman',serif" font-size="18.5" font-weight="bold" fill="#000" text-anchor="middle" >60</text>
<text x="1304.1" y="381.3" font-family="'Liberation Serif','Times New Roman',serif" font-size="22.6" font-weight="bold" fill="#000" text-anchor="middle" ><tspan font-size="16.5" dy="-0.9">△</tspan><tspan dy="0.9">R/R</tspan><tspan dy="4.5" font-size="15.5">0</tspan><tspan dy="-4.5"> (%)</tspan></text>
<text transform="translate(1089.2,187.4) rotate(-90)" font-family="'Liberation Serif','Times New Roman',serif" font-size="22.4" font-weight="bold" fill="#000" text-anchor="middle" >Force (N)</text>
<polygon points="1165.8,53.6 1171.7,63.5 1159.9,63.5" fill="#000"/>
<text x="1190.1" y="67" font-family="'Liberation Serif','Times New Roman',serif" font-size="18.3" font-weight="bold" fill="#000" text-anchor="start" >Data</text>
<line x1="1146.9" y1="84.4" x2="1184.2" y2="84.4" stroke="#ee1111" stroke-width="2.2" />
<text x="1190.1" y="90.9" font-family="'Liberation Serif','Times New Roman',serif" font-size="18.3" font-weight="bold" fill="#000" text-anchor="start" >Fitting curve</text>
<text x="1148.4" y="116.7" font-family="'Liberation Serif','Times New Roman',serif" font-size="18.3" font-weight="bold" fill="#000" text-anchor="start" >SSE: 0.01732</text>
<text x="1157.8" y="141.5" font-family="'Liberation Serif','Times New Roman',serif" font-size="18.3" font-weight="bold" fill="#000" text-anchor="start" >R<tspan dy="-8" font-size="12">2</tspan><tspan dy="8"> : 0.99846</tspan></text>
<polygon points="1578.3,224.7 1579.9,224.8 1581.4,224.9 1583,224.9 1584.6,224.6 1586.2,224.7 1587.7,224.5 1589.3,224.6 1590.9,224.7 1592.4,224.6 1594,224.5 1595.6,224.5 1597.2,224.1 1598.7,224.1 1600.3,224.3 1601.9,224 1603.4,224 1605,224.2 1606.6,223.8 1608.1,224 1609.7,223.6 1611.3,224 1612.9,223.9 1614.4,223.8 1616,223.5 1617.6,223.5 1619.1,223.6 1620.7,223.7 1622.3,223.5 1623.9,223.4 1625.4,223.6 1627,223.2 1628.6,223.2 1630.1,223.1 1631.7,223.2 1633.3,223.2 1634.9,223 1636.4,223.3 1638,223.2 1639.6,223.3 1641.1,223.2 1642.7,222.9 1644.3,223.2 1645.9,222.9 1647.4,223 1649,222.7 1650.6,222.7 1652.1,222.8 1653.7,222.6 1655.3,223 1656.8,222.9 1658.4,222.8 1660,222.7 1661.6,222.6 1663.1,222.5 1664.7,222.5 1666.3,222.4 1667.8,222.5 1669.4,222.6 1671,222.5 1672.6,222.4 1674.1,222.3 1675.7,222.5 1677.3,222.5 1678.8,222.3 1680.4,222.5 1682,222.1 1683.6,222.5 1685.1,222.2 1686.7,222.3 1688.3,222.4 1689.8,222.2 1691.4,222.2 1693,222 1694.6,222 1696.1,222.1 1697.7,221.9 1699.3,221.9 1700.8,222.2 1702.4,221.9 1704,221.9 1705.6,221.8 1707.1,221.9 1708.7,222 1710.3,222.1 1711.8,221.9 1713.4,222.1 1715,221.8 1716.5,221.9 1718.1,221.7 1719.7,221.9 1721.3,221.9 1722.8,221.6 1724.4,221.7 1726,221.9 1727.5,221.7 1729.1,221.8 1730.7,221.7 1732.3,221.7 1733.8,221.8 1735.4,221.5 1737,221.5 1738.5,221.5 1740.1,221.8 1741.7,221.8 1743.3,221.5 1744.8,221.5 1746.4,221.5 1748,221.7 1749.5,221.5 1751.1,221.6 1752.7,221.6 1754.3,221.5 1755.8,221.6 1757.4,221.4 1759,221.4 1760.5,221.3 1762.1,221.7 1763.7,221.4 1765.2,221.2 1766.8,221.4 1768.4,221.4 1770,221.3 1771.5,221.6 1773.1,221.3 1774.7,221.3 1776.2,221.3 1777.8,221.5 1779.4,221.3 1781,221.5 1782.5,221.3 1784.1,221.5 1785.7,221.1 1787.2,221.2 1788.8,221.3 1790.4,221.2 1792,221.4 1793.5,221.3 1795.1,221.4 1796.7,221.1 1798.2,221.1 1799.8,221.1 1801.4,221.4 1803,221.1 1804.5,221.5 1806.1,221.2 1807.7,221.2 1809.2,221.4 1810.8,221.2 1812.4,221 1813.9,221.1 1815.5,221.3 1817.1,221 1818.7,221.2 1820.2,221 1821.8,221.2 1823.4,221.3 1824.9,220.9 1826.5,221.3 1828.1,221.2 1829.7,221 1831.2,221.3 1832.8,221.1 1834.4,220.9 1835.9,221.1 1837.5,221.2 1839.1,221 1840.7,220.9 1842.2,221 1843.8,221 1845.4,221.1 1846.9,221.1 1848.5,220.8 1850.1,220.8 1851.7,221.3 1853.2,221.2 1854.8,221.2 1856.4,220.9 1857.9,221.2 1859.5,221.2 1861.1,220.9 1862.7,221.2 1864.2,220.8 1865.8,221 1867.4,220.8 1868.9,220.8 1870.5,221.1 1872.1,220.8 1873.6,221 1875.2,221.1 1876.8,221.2 1878.4,220.9 1879.9,220.9 1881.5,221.1 1883.1,220.8 1884.6,221.1 1886.2,221 1887.8,221.1 1889.4,221 1890.9,220.8 1892.5,220.9 1892.5,311.8 1891.7,312.7 1890.9,311.7 1890.1,312.1 1889.4,312.5 1888.6,312 1887.8,312.4 1887,311.7 1886.2,312.1 1885.4,312.5 1884.6,312.5 1883.9,313.3 1883.1,312.3 1882.3,312.8 1881.5,313.2 1880.7,313.2 1879.9,313.4 1879.1,312.6 1878.4,312.2 1877.6,312.3 1876.8,313.2 1876,313.7 1875.2,313.2 1874.4,313.4 1873.6,312.6 1872.9,311.9 1872.1,312.6 1871.3,312.1 1870.5,311.6 1869.7,312.3 1868.9,311.6 1868.1,312.3 1867.4,311.7 1866.6,311.5 1865.8,311.4 1865,311.9 1864.2,311.2 1863.4,310.4 1862.7,310 1861.9,310.9 1861.1,310.5 1860.3,309.8 1859.5,311 1858.7,309.8 1857.9,309.8 1857.2,309.9 1856.4,309.8 1855.6,309.4 1854.8,309 1854,308.4 1853.2,306.9 1852.4,307.5 1851.7,308.5 1850.9,308.1 1850.1,308.3 1849.3,308.4 1848.5,307.5 1847.7,307.1 1846.9,307.1 1846.2,307.9 1845.4,307.9 1844.6,307.1 1843.8,308.2 1843,308.3 1842.2,308.3 1841.4,308 1840.7,307.8 1839.9,306.8 1839.1,307.8 1838.3,307.1 1837.5,307.7 1836.7,307.3 1835.9,307.5 1835.2,307.7 1834.4,307.9 1833.6,306.8 1832.8,306.9 1832,307.4 1831.2,307.1 1830.4,306.4 1829.7,306.7 1828.9,307.5 1828.1,306.7 1827.3,307.4 1826.5,306.4 1825.7,307.4 1824.9,307.3 1824.2,306 1823.4,306.8 1822.6,306.7 1821.8,305.7 1821,306.3 1820.2,307 1819.4,306.7 1818.7,306.7 1817.9,305.1 1817.1,306.3 1816.3,305.7 1815.5,305.2 1814.7,305.9 1813.9,306.4 1813.2,304.9 1812.4,305.8 1811.6,305.8 1810.8,305.9 1810,305.3 1809.2,305.5 1808.5,305.2 1807.7,305.7 1806.9,305.7 1806.1,305.1 1805.3,305.5 1804.5,304.2 1803.7,305.2 1803,304.1 1802.2,305.1 1801.4,304.1 1800.6,304.9 1799.8,305.1 1799,304.7 1798.2,304.1 1797.5,304.3 1796.7,303.4 1795.9,304.8 1795.1,304.2 1794.3,303.2 1793.5,304.3 1792.7,304.1 1792,303.5 1791.2,303.6 1790.4,303.3 1789.6,303.1 1788.8,303.8 1788,302.8 1787.2,302.5 1786.5,302.4 1785.7,302.1 1784.9,302.9 1784.1,302.2 1783.3,303 1782.5,302.8 1781.7,301.8 1781,302.4 1780.2,303 1779.4,301.4 1778.6,301.6 1777.8,302.8 1777,302 1776.2,301.2 1775.5,302.4 1774.7,301.2 1773.9,301 1773.1,300.6 1772.3,301.6 1771.5,301.8 1770.7,300.3 1770,301.7 1769.2,300.8 1768.4,300.3 1767.6,300.5 1766.8,301.2 1766,301 1765.2,299.6 1764.5,300.5 1763.7,299.8 1762.9,299 1762.1,298.9 1761.3,299.8 1760.5,299.2 1759.8,298.9 1759,298.6 1758.2,298.3 1757.4,298.2 1756.6,298.7 1755.8,297.2 1755,298.1 1754.3,298 1753.5,297.5 1752.7,297.2 1751.9,296.2 1751.1,297.3 1750.3,296.7 1749.5,296.5 1748.8,295.5 1748,295.2 1747.2,296.3 1746.4,295.5 1745.6,296.8 1744.8,296.8 1744,295.8 1743.3,296.6 1742.5,297 1741.7,296.1 1740.9,297.1 1740.1,297 1739.3,297.3 1738.5,297.6 1737.8,297.8 1737,296.9 1736.2,298.3 1735.4,298.5 1734.6,298.5 1733.8,297.5 1733,298.6 1732.3,298.2 1731.5,298.8 1730.7,297.5 1729.9,297.6 1729.1,298.7 1728.3,297.8 1727.5,299.3 1726.8,298.4 1726,299.4 1725.2,298.6 1724.4,298.3 1723.6,299.6 1722.8,298.1 1722,299.4 1721.3,299.9 1720.5,298.3 1719.7,298.9 1718.9,299.8 1718.1,298.9 1717.3,299.5 1716.5,299.4 1715.8,299.3 1715,299.4 1714.2,300 1713.4,299.6 1712.6,299.7 1711.8,299.5 1711,299.3 1710.3,299.8 1709.5,300.4 1708.7,299.9 1707.9,300.5 1707.1,300.9 1706.3,300.1 1705.6,301.1 1704.8,301.3 1704,300.8 1703.2,299.9 1702.4,301.6 1701.6,301.4 1700.8,300.4 1700.1,300.2 1699.3,301.2 1698.5,300.8 1697.7,301 1696.9,301.1 1696.1,301.9 1695.3,301.7 1694.6,301.1 1693.8,302 1693,300.9 1692.2,301.7 1691.4,301.3 1690.6,301.1 1689.8,301.9 1689.1,301.2 1688.3,301.6 1687.5,301.9 1686.7,302.4 1685.9,302.3 1685.1,301.2 1684.3,301.5 1683.6,301.3 1682.8,302.4 1682,302.7 1681.2,302.1 1680.4,302.5 1679.6,302 1678.8,301.4 1678.1,303 1677.3,301.7 1676.5,301.9 1675.7,302.2 1674.9,302.1 1674.1,302.8 1673.3,302.1 1672.6,302.5 1671.8,301.9 1671,302.6 1670.2,302.9 1669.4,303.1 1668.6,302.8 1667.8,302.7 1667.1,303.4 1666.3,302.4 1665.5,303.8 1664.7,304.2 1663.9,302.7 1663.1,303.3 1662.3,303.3 1661.6,304.3 1660.8,303.2 1660,303.3 1659.2,303.2 1658.4,303.7 1657.6,304.1 1656.8,304 1656.1,304.2 1655.3,304.8 1654.5,304.1 1653.7,304 1652.9,304.5 1652.1,303.9 1651.4,304.5 1650.6,304 1649.8,305 1649,304.2 1648.2,304.7 1647.4,305.6 1646.6,304.9 1645.9,305.7 1645.1,305.9 1644.3,305.2 1643.5,305.4 1642.7,305.4 1641.9,305.9 1641.1,305.3 1640.4,306.3 1639.6,305.7 1638.8,306.4 1638,306.3 1637.2,306.1 1636.4,305.6 1635.6,305.5 1634.9,305.5 1634.1,305.9 1633.3,305.3 1632.5,305.8 1631.7,306.6 1630.9,307.1 1630.1,306.7 1629.4,307.1 1628.6,306.7 1627.8,305.7 1627,307.2 1626.2,306.4 1625.4,305.9 1624.6,307.3 1623.9,306.1 1623.1,307 1622.3,306.4 1621.5,306.8 1620.7,306 1619.9,306.3 1619.1,306.4 1618.4,307.4 1617.6,306.2 1616.8,307.8 1616,306.3 1615.2,307.8 1614.4,306.7 1613.6,307.3 1612.9,307.7 1612.1,307.9 1611.3,307.1 1610.5,307.5 1609.7,306.9 1608.9,306.9 1608.1,307.2 1607.4,308.5 1606.6,308.4 1605.8,307.4 1605,307.7 1604.2,308.9 1603.4,307.9 1602.7,308.3 1601.9,308.8 1601.1,308.3 1600.3,309.8 1599.5,309.4 1598.7,309.9 1597.9,310.3 1597.2,310.6 1596.4,310.1 1595.6,310 1594.8,309.9 1594,309.8 1593.2,310.5 1592.4,310.1 1591.7,310.3 1590.9,310.4 1590.1,310.7 1589.3,312 1588.5,312.3 1587.7,311.4 1586.9,312.4 1586.2,312.8 1585.4,312.5 1584.6,312 1583.8,312.6 1583,312.4 1582.2,314 1581.4,312.8 1580.7,314.1 1579.9,313.7 1579.1,314.6 1578.3,315" fill="#404040" stroke="none" stroke-width="1" />
<line x1="1578.3" y1="330.4" x2="1578.3" y2="322.2" stroke="#000" stroke-width="2" />
<line x1="1641.1" y1="330.4" x2="1641.1" y2="322.2" stroke="#000" stroke-width="2" />
<line x1="1704" y1="330.4" x2="1704" y2="322.2" stroke="#000" stroke-width="2" />
<line x1="1766.8" y1="330.4" x2="1766.8" y2="322.2" stroke="#000" stroke-width="2" />
<line x1="1829.7" y1="330.4" x2="1829.7" y2="322.2" stroke="#000" stroke-width="2" />
<line x1="1892.5" y1="330.4" x2="1892.5" y2="322.2" stroke="#000" stroke-width="2" />
<line x1="1609.7" y1="330.4" x2="1609.7" y2="326.4" stroke="#000" stroke-width="2" />
<line x1="1672.6" y1="330.4" x2="1672.6" y2="326.4" stroke="#000" stroke-width="2" />
<line x1="1735.4" y1="330.4" x2="1735.4" y2="326.4" stroke="#000" stroke-width="2" />
<line x1="1798.2" y1="330.4" x2="1798.2" y2="326.4" stroke="#000" stroke-width="2" />
<line x1="1861.1" y1="330.4" x2="1861.1" y2="326.4" stroke="#000" stroke-width="2" />
<line x1="1562.7" y1="307.4" x2="1570.9" y2="307.4" stroke="#000" stroke-width="2" />
<line x1="1562.7" y1="247.3" x2="1570.9" y2="247.3" stroke="#000" stroke-width="2" />
<line x1="1562.7" y1="187.1" x2="1570.9" y2="187.1" stroke="#000" stroke-width="2" />
<line x1="1562.7" y1="127" x2="1570.9" y2="127" stroke="#000" stroke-width="2" />
<line x1="1562.7" y1="66.9" x2="1570.9" y2="66.9" stroke="#000" stroke-width="2" />
<line x1="1562.7" y1="277.3" x2="1566.7" y2="277.3" stroke="#000" stroke-width="2" />
<line x1="1562.7" y1="217.2" x2="1566.7" y2="217.2" stroke="#000" stroke-width="2" />
<line x1="1562.7" y1="157.1" x2="1566.7" y2="157.1" stroke="#000" stroke-width="2" />
<line x1="1562.7" y1="96.9" x2="1566.7" y2="96.9" stroke="#000" stroke-width="2" />
<rect x="1562.7" y="43.7" width="346.1" height="286.7" fill="none" stroke="#000" stroke-width="2"/>
<text x="1554.6" y="313.7" font-family="'Liberation Serif','Times New Roman',serif" font-size="18.5" font-weight="bold" fill="#000" text-anchor="end" >0</text>
<text x="1554.6" y="253.6" font-family="'Liberation Serif','Times New Roman',serif" font-size="18.5" font-weight="bold" fill="#000" text-anchor="end" >50</text>
<text x="1554.6" y="193.4" font-family="'Liberation Serif','Times New Roman',serif" font-size="18.5" font-weight="bold" fill="#000" text-anchor="end" >100</text>
<text x="1554.6" y="133.3" font-family="'Liberation Serif','Times New Roman',serif" font-size="18.5" font-weight="bold" fill="#000" text-anchor="end" >150</text>
<text x="1554.6" y="73.2" font-family="'Liberation Serif','Times New Roman',serif" font-size="18.5" font-weight="bold" fill="#000" text-anchor="end" >200</text>
<text x="1578.3" y="355.4" font-family="'Liberation Serif','Times New Roman',serif" font-size="18.5" font-weight="bold" fill="#000" text-anchor="middle" >0</text>
<text x="1641.1" y="355.4" font-family="'Liberation Serif','Times New Roman',serif" font-size="18.5" font-weight="bold" fill="#000" text-anchor="middle" >2000</text>
<text x="1704" y="355.4" font-family="'Liberation Serif','Times New Roman',serif" font-size="18.5" font-weight="bold" fill="#000" text-anchor="middle" >4000</text>
<text x="1766.8" y="355.4" font-family="'Liberation Serif','Times New Roman',serif" font-size="18.5" font-weight="bold" fill="#000" text-anchor="middle" >6000</text>
<text x="1829.7" y="355.4" font-family="'Liberation Serif','Times New Roman',serif" font-size="18.5" font-weight="bold" fill="#000" text-anchor="middle" >8000</text>
<text x="1892.5" y="355.4" font-family="'Liberation Serif','Times New Roman',serif" font-size="18.5" font-weight="bold" fill="#000" text-anchor="middle" >10000</text>
<text x="1735.7" y="386.2" font-family="'Liberation Serif','Times New Roman',serif" font-size="22.1" font-weight="bold" fill="#000" text-anchor="middle" >Time (s)</text>
<text transform="translate(1516,183) rotate(-90)" font-family="'Liberation Serif','Times New Roman',serif" font-size="22.2" font-weight="bold" fill="#000" text-anchor="middle" >ΔR/R<tspan dy="4.5" font-size="15.5">0</tspan><tspan dy="-4.5"> (%)</tspan></text>
<rect x="1598.3" y="68" width="131.4" height="109.4" fill="#fff" stroke="#000" stroke-width="1.5"/>
<path d="M1598.2,169.1 L1598.4,169.1 L1598.7,169.0 L1598.9,168.9 L1599.1,168.8 L1599.3,168.8 L1599.6,168.7 L1599.8,168.7 L1600.0,168.6 L1600.3,168.5 L1600.5,168.5 L1600.7,168.4 L1600.9,168.4 L1601.2,168.3 L1601.4,168.3 L1601.6,168.2 L1601.8,168.2 L1602.1,168.1 L1602.3,168.1 L1602.5,168.0 L1602.8,168.0 L1603.0,167.9 L1603.2,167.9 L1603.4,167.9 L1603.7,167.8 L1603.9,167.8 L1604.1,167.7 L1604.3,167.7 L1604.6,167.7 L1604.8,167.6 L1605.0,167.6 L1605.3,167.6 L1605.5,167.5 L1605.7,167.5 L1605.9,167.5 L1606.2,167.4 L1606.4,167.4 L1606.6,167.4 L1606.9,167.4 L1607.1,167.3 L1607.3,167.3 L1607.5,167.3 L1607.8,167.3 L1608.0,167.2 L1608.2,167.2 L1608.4,167.2 L1608.7,167.2 L1608.9,167.1 L1609.1,167.1 L1609.4,167.1 L1609.6,167.1 L1609.8,167.1 L1610.0,167.0 L1610.3,167.0 L1610.5,167.0 L1610.7,167.0 L1610.9,167.0 L1611.2,167.0 L1611.4,166.9 L1611.6,166.9 L1611.9,166.9 L1612.1,166.9 L1612.3,166.9 L1612.5,166.9 L1612.8,166.9 L1613.0,166.8 L1613.2,166.8 L1613.4,166.8 L1613.7,166.8 L1613.9,166.8 L1614.1,168.1 L1614.4,153.5 L1614.6,141.5 L1614.8,131.6 L1615.0,123.6 L1615.3,117.0 L1615.5,111.6 L1615.7,107.2 L1616.0,103.6 L1616.2,100.7 L1616.4,98.2 L1616.6,96.3 L1616.9,94.6 L1617.1,93.3 L1617.3,92.2 L1617.5,91.3 L1617.8,90.6 L1618.0,90.0 L1618.2,89.5 L1618.5,89.1 L1618.7,88.8 L1618.9,88.5 L1619.1,88.3 L1619.4,88.1 L1619.6,88.0 L1619.8,87.9 L1620.0,87.8 L1620.3,87.7 L1620.5,87.6 L1620.7,87.6 L1621.0,87.5 L1621.2,87.5 L1621.4,87.4 L1621.6,87.4 L1621.9,87.4 L1622.1,87.4 L1622.3,87.4 L1622.5,87.4 L1622.8,87.3 L1623.0,87.3 L1623.2,87.3 L1623.5,87.3 L1623.7,87.3 L1623.9,87.3 L1624.1,87.3 L1624.4,87.3 L1624.6,87.3 L1624.8,87.3 L1625.1,87.3 L1625.3,87.3 L1625.5,87.3 L1625.7,87.3 L1626.0,87.3 L1626.2,87.3 L1626.4,87.3 L1626.6,87.3 L1626.9,87.3 L1627.1,87.3 L1627.3,87.3 L1627.6,87.3 L1627.8,87.3 L1628.0,87.3 L1628.2,87.3 L1628.5,87.3 L1628.7,87.3 L1628.9,87.3 L1629.1,87.3 L1629.4,87.3 L1629.6,98.0 L1629.8,108.7 L1630.1,119.4 L1630.3,130.1 L1630.5,140.7 L1630.7,151.4 L1631.0,162.1 L1631.2,172.8 L1631.4,172.6 L1631.6,172.5 L1631.9,172.3 L1632.1,172.2 L1632.3,172.0 L1632.6,171.9 L1632.8,171.7 L1633.0,171.6 L1633.2,171.4 L1633.5,171.3 L1633.7,171.2 L1633.9,171.1 L1634.2,170.9 L1634.4,170.8 L1634.6,170.7 L1634.8,170.6 L1635.1,170.5 L1635.3,170.4 L1635.5,170.3 L1635.7,170.2 L1636.0,170.1 L1636.2,170.0 L1636.4,169.9 L1636.7,169.8 L1636.9,169.7 L1637.1,169.6 L1637.3,169.5 L1637.6,169.4 L1637.8,169.4 L1638.0,169.3 L1638.2,169.2 L1638.5,169.1 L1638.7,169.1 L1638.9,169.0 L1639.2,168.9 L1639.4,168.8 L1639.6,168.8 L1639.8,168.7 L1640.1,168.7 L1640.3,168.6 L1640.5,168.5 L1640.7,168.5 L1641.0,168.4 L1641.2,168.4 L1641.4,168.3 L1641.7,168.3 L1641.9,168.2 L1642.1,168.2 L1642.3,168.1 L1642.6,168.1 L1642.8,168.0 L1643.0,168.0 L1643.3,167.9 L1643.5,167.9 L1643.7,167.9 L1643.9,167.8 L1644.2,167.8 L1644.4,167.7 L1644.6,167.7 L1644.8,167.7 L1645.1,167.6 L1645.3,167.6 L1645.5,167.6 L1645.8,167.5 L1646.0,167.5 L1646.2,167.5 L1646.4,167.4 L1646.7,167.4 L1646.9,167.4 L1647.1,167.4 L1647.3,167.3 L1647.6,167.3 L1647.8,167.3 L1648.0,167.3 L1648.3,167.2 L1648.5,167.2 L1648.7,167.2 L1648.9,167.2 L1649.2,167.1 L1649.4,167.1 L1649.6,167.1 L1649.8,167.1 L1650.1,167.1 L1650.3,167.0 L1650.5,167.0 L1650.8,167.0 L1651.0,167.0 L1651.2,167.0 L1651.4,167.0 L1651.7,166.9 L1651.9,166.9 L1652.1,166.9 L1652.4,166.9 L1652.6,166.9 L1652.8,166.9 L1653.0,166.9 L1653.3,166.8 L1653.5,166.8 L1653.7,168.1 L1653.9,153.5 L1654.2,141.5 L1654.4,131.6 L1654.6,123.6 L1654.9,117.0 L1655.1,111.6 L1655.3,107.2 L1655.5,103.6 L1655.8,100.7 L1656.0,98.2 L1656.2,96.3 L1656.4,94.6 L1656.7,93.3 L1656.9,92.2 L1657.1,91.3 L1657.4,90.6 L1657.6,90.0 L1657.8,89.5 L1658.0,89.1 L1658.3,88.8 L1658.5,88.5 L1658.7,88.3 L1658.9,88.1 L1659.2,88.0 L1659.4,87.9 L1659.6,87.8 L1659.9,87.7 L1660.1,87.6 L1660.3,87.6 L1660.5,87.5 L1660.8,87.5 L1661.0,87.4 L1661.2,87.4 L1661.5,87.4 L1661.7,87.4 L1661.9,87.4 L1662.1,87.4 L1662.4,87.3 L1662.6,87.3 L1662.8,87.3 L1663.0,87.3 L1663.3,87.3 L1663.5,87.3 L1663.7,87.3 L1664.0,87.3 L1664.2,87.3 L1664.4,87.3 L1664.6,87.3 L1664.9,87.3 L1665.1,87.3 L1665.3,87.3 L1665.5,87.3 L1665.8,87.3 L1666.0,87.3 L1666.2,87.3 L1666.5,87.3 L1666.7,87.3 L1666.9,87.3 L1667.1,87.3 L1667.4,87.3 L1667.6,87.3 L1667.8,87.3 L1668.0,87.3 L1668.3,87.3 L1668.5,87.3 L1668.7,87.3 L1669.0,87.3 L1669.2,98.0 L1669.4,108.7 L1669.6,119.4 L1669.9,130.1 L1670.1,140.7 L1670.3,151.4 L1670.6,162.1 L1670.8,172.8 L1671.0,172.6 L1671.2,172.5 L1671.5,172.3 L1671.7,172.2 L1671.9,172.0 L1672.1,171.9 L1672.4,171.7 L1672.6,171.6 L1672.8,171.4 L1673.1,171.3 L1673.3,171.2 L1673.5,171.1 L1673.7,170.9 L1674.0,170.8 L1674.2,170.7 L1674.4,170.6 L1674.6,170.5 L1674.9,170.4 L1675.1,170.3 L1675.3,170.2 L1675.6,170.1 L1675.8,170.0 L1676.0,169.9 L1676.2,169.8 L1676.5,169.7 L1676.7,169.6 L1676.9,169.5 L1677.1,169.4 L1677.4,169.4 L1677.6,169.3 L1677.8,169.2 L1678.1,169.1 L1678.3,169.1 L1678.5,169.0 L1678.7,168.9 L1679.0,168.8 L1679.2,168.8 L1679.4,168.7 L1679.7,168.7 L1679.9,168.6 L1680.1,168.5 L1680.3,168.5 L1680.6,168.4 L1680.8,168.4 L1681.0,168.3 L1681.2,168.3 L1681.5,168.2 L1681.7,168.2 L1681.9,168.1 L1682.2,168.1 L1682.4,168.0 L1682.6,168.0 L1682.8,167.9 L1683.1,167.9 L1683.3,167.9 L1683.5,167.8 L1683.7,167.8 L1684.0,167.7 L1684.2,167.7 L1684.4,167.7 L1684.7,167.6 L1684.9,167.6 L1685.1,167.6 L1685.3,167.5 L1685.6,167.5 L1685.8,167.5 L1686.0,167.4 L1686.2,167.4 L1686.5,167.4 L1686.7,167.4 L1686.9,167.3 L1687.2,167.3 L1687.4,167.3 L1687.6,167.3 L1687.8,167.2 L1688.1,167.2 L1688.3,167.2 L1688.5,167.2 L1688.8,167.1 L1689.0,167.1 L1689.2,167.1 L1689.4,167.1 L1689.7,167.1 L1689.9,167.0 L1690.1,167.0 L1690.3,167.0 L1690.6,167.0 L1690.8,167.0 L1691.0,167.0 L1691.3,166.9 L1691.5,166.9 L1691.7,166.9 L1691.9,166.9 L1692.2,166.9 L1692.4,166.9 L1692.6,166.9 L1692.8,168.1 L1693.1,153.5 L1693.3,141.5 L1693.5,131.6 L1693.8,123.6 L1694.0,117.0 L1694.2,111.6 L1694.4,107.2 L1694.7,103.6 L1694.9,100.7 L1695.1,98.2 L1695.3,96.3 L1695.6,94.6 L1695.8,93.3 L1696.0,92.2 L1696.3,91.3 L1696.5,90.6 L1696.7,90.0 L1696.9,89.5 L1697.2,89.1 L1697.4,88.8 L1697.6,88.5 L1697.9,88.3 L1698.1,88.1 L1698.3,88.0 L1698.5,87.9 L1698.8,87.8 L1699.0,87.7 L1699.2,87.6 L1699.4,87.6 L1699.7,87.5 L1699.9,87.5 L1700.1,87.4 L1700.4,87.4 L1700.6,87.4 L1700.8,87.4 L1701.0,87.4 L1701.3,87.4 L1701.5,87.3 L1701.7,87.3 L1701.9,87.3 L1702.2,87.3 L1702.4,87.3 L1702.6,87.3 L1702.9,87.3 L1703.1,87.3 L1703.3,87.3 L1703.5,87.3 L1703.8,87.3 L1704.0,87.3 L1704.2,87.3 L1704.4,87.3 L1704.7,87.3 L1704.9,87.3 L1705.1,87.3 L1705.4,87.3 L1705.6,87.3 L1705.8,87.3 L1706.0,87.3 L1706.3,87.3 L1706.5,87.3 L1706.7,87.3 L1707.0,87.3 L1707.2,87.3 L1707.4,87.3 L1707.6,87.3 L1707.9,87.3 L1708.1,87.3 L1708.3,87.3 L1708.5,87.3 L1708.8,98.0 L1709.0,108.7 L1709.2,119.4 L1709.5,130.1 L1709.7,140.7 L1709.9,151.4 L1710.1,162.1 L1710.4,172.8 L1710.6,172.6 L1710.8,172.5 L1711.0,172.3 L1711.3,172.2 L1711.5,172.0 L1711.7,171.9 L1712.0,171.7 L1712.2,171.6 L1712.4,171.4 L1712.6,171.3 L1712.9,171.2 L1713.1,171.1 L1713.3,170.9 L1713.5,170.8 L1713.8,170.7 L1714.0,170.6 L1714.2,170.5 L1714.5,170.4 L1714.7,170.3 L1714.9,170.2 L1715.1,170.1 L1715.4,170.0 L1715.6,169.9 L1715.8,169.8 L1716.1,169.7 L1716.3,169.6 L1716.5,169.5 L1716.7,169.4 L1717.0,169.4 L1717.2,169.3 L1717.4,169.2 L1717.6,169.1 L1717.9,169.1 L1718.1,169.0 L1718.3,168.9 L1718.6,168.8 L1718.8,168.8 L1719.0,168.7 L1719.2,168.7 L1719.5,168.6 L1719.7,168.5 L1719.9,168.5 L1720.1,168.4 L1720.4,168.4 L1720.6,168.3 L1720.8,168.3 L1721.1,168.2 L1721.3,168.2 L1721.5,168.1 L1721.7,168.1 L1722.0,168.0 L1722.2,168.0 L1722.4,167.9 L1722.6,167.9 L1722.9,167.9 L1723.1,167.8 L1723.3,167.8 L1723.6,167.7 L1723.8,167.7 L1724.0,167.7 L1724.2,167.6 L1724.5,167.6 L1724.7,167.6 L1724.9,167.5 L1725.2,167.5 L1725.4,167.5 L1725.6,167.4 L1725.8,167.4 L1726.1,167.4 L1726.3,167.4 L1726.5,167.3 L1726.7,167.3 L1727.0,167.3 L1727.2,167.3 L1727.4,167.2 L1727.7,167.2 L1727.9,167.2 L1728.1,167.2 L1728.3,167.1 L1728.6,167.1 L1728.8,167.1 L1729.0,167.1 L1729.2,167.1 L1729.5,167.0" fill="none" stroke="#ee1111" stroke-width="1.4" stroke-linejoin="round" />
<line x1="1629.6" y1="177.4" x2="1629.6" y2="173.9" stroke="#000" stroke-width="1.2" />
<line x1="1675.1" y1="177.4" x2="1675.1" y2="173.9" stroke="#000" stroke-width="1.2" />
<line x1="1720.6" y1="177.4" x2="1720.6" y2="173.9" stroke="#000" stroke-width="1.2" />
<line x1="1606.8" y1="177.4" x2="1606.8" y2="175.4" stroke="#000" stroke-width="1.2" />
<line x1="1652.3" y1="177.4" x2="1652.3" y2="175.4" stroke="#000" stroke-width="1.2" />
<line x1="1697.8" y1="177.4" x2="1697.8" y2="175.4" stroke="#000" stroke-width="1.2" />
<line x1="1598.3" y1="168.1" x2="1601.8" y2="168.1" stroke="#000" stroke-width="1.2" />
<line x1="1598.3" y1="144.6" x2="1601.8" y2="144.6" stroke="#000" stroke-width="1.2" />
<line x1="1598.3" y1="121.1" x2="1601.8" y2="121.1" stroke="#000" stroke-width="1.2" />
<line x1="1598.3" y1="97.5" x2="1601.8" y2="97.5" stroke="#000" stroke-width="1.2" />
<line x1="1598.3" y1="74" x2="1601.8" y2="74" stroke="#000" stroke-width="1.2" />
<line x1="1598.3" y1="156.3" x2="1600.3" y2="156.3" stroke="#000" stroke-width="1.2" />
<line x1="1598.3" y1="132.8" x2="1600.3" y2="132.8" stroke="#000" stroke-width="1.2" />
<line x1="1598.3" y1="109.3" x2="1600.3" y2="109.3" stroke="#000" stroke-width="1.2" />
<line x1="1598.3" y1="85.8" x2="1600.3" y2="85.8" stroke="#000" stroke-width="1.2" />
<text x="1595.2" y="171.4" font-family="'Liberation Serif','Times New Roman',serif" font-size="9.5" font-weight="bold" fill="#000" text-anchor="end" >0</text>
<text x="1595.2" y="147.9" font-family="'Liberation Serif','Times New Roman',serif" font-size="9.5" font-weight="bold" fill="#000" text-anchor="end" >20</text>
<text x="1595.2" y="124.4" font-family="'Liberation Serif','Times New Roman',serif" font-size="9.5" font-weight="bold" fill="#000" text-anchor="end" >40</text>
<text x="1595.2" y="100.8" font-family="'Liberation Serif','Times New Roman',serif" font-size="9.5" font-weight="bold" fill="#000" text-anchor="end" >60</text>
<text x="1595.2" y="77.3" font-family="'Liberation Serif','Times New Roman',serif" font-size="9.5" font-weight="bold" fill="#000" text-anchor="end" >80</text>
<text x="1629.6" y="188.2" font-family="'Liberation Serif','Times New Roman',serif" font-size="9.5" font-weight="bold" fill="#000" text-anchor="middle" >340</text>
<text x="1675.1" y="188.2" font-family="'Liberation Serif','Times New Roman',serif" font-size="9.5" font-weight="bold" fill="#000" text-anchor="middle" >350</text>
<text x="1720.6" y="188.2" font-family="'Liberation Serif','Times New Roman',serif" font-size="9.5" font-weight="bold" fill="#000" text-anchor="middle" >360</text>
<text x="1662.3" y="198.9" font-family="'Liberation Serif','Times New Roman',serif" font-size="11" font-weight="bold" fill="#000" text-anchor="middle" >Time (s)</text>
<text transform="translate(1583,120.6) rotate(-90)" font-family="'Liberation Serif','Times New Roman',serif" font-size="10.5" font-weight="bold" fill="#000" text-anchor="middle" >ΔR/R<tspan dy="2.2" font-size="7.5">0</tspan><tspan dy="-2.2"> (%)</tspan></text>
<rect x="1761.3" y="68.4" width="131.8" height="110" fill="#fff" stroke="#000" stroke-width="1.5"/>
<path d="M1761.1,169.5 L1761.3,169.4 L1761.5,169.3 L1761.8,169.2 L1762.0,169.1 L1762.2,169.0 L1762.4,168.9 L1762.7,168.8 L1762.9,168.7 L1763.1,168.6 L1763.3,168.5 L1763.6,168.4 L1763.8,168.3 L1764.0,168.2 L1764.2,168.2 L1764.5,168.1 L1764.7,168.0 L1764.9,167.9 L1765.1,167.9 L1765.4,167.8 L1765.6,167.7 L1765.8,167.6 L1766.0,167.6 L1766.3,167.5 L1766.5,167.4 L1766.7,167.4 L1767.0,167.3 L1767.2,167.3 L1767.4,167.2 L1767.6,167.2 L1767.9,167.1 L1768.1,167.0 L1768.3,167.0 L1768.5,166.9 L1768.8,166.9 L1769.0,166.9 L1769.2,166.8 L1769.4,166.8 L1769.7,166.7 L1769.9,166.7 L1770.1,166.6 L1770.3,166.6 L1770.6,166.6 L1770.8,166.5 L1771.0,166.5 L1771.3,166.4 L1771.5,166.4 L1771.7,166.4 L1771.9,166.3 L1772.2,166.3 L1772.4,166.3 L1772.6,166.2 L1772.8,166.2 L1773.1,166.2 L1773.3,166.1 L1773.5,166.1 L1773.7,166.1 L1774.0,166.1 L1774.2,166.0 L1774.4,166.0 L1774.6,166.0 L1774.9,166.0 L1775.1,165.9 L1775.3,165.9 L1775.6,165.9 L1775.8,165.9 L1776.0,165.9 L1776.2,165.8 L1776.5,165.8 L1776.7,165.8 L1776.9,165.8 L1777.1,165.8 L1777.4,165.7 L1777.6,165.7 L1777.8,165.7 L1778.0,165.7 L1778.3,165.7 L1778.5,151.8 L1778.7,139.6 L1778.9,129.6 L1779.2,121.4 L1779.4,114.6 L1779.6,109.1 L1779.9,104.6 L1780.1,100.9 L1780.3,97.9 L1780.5,95.5 L1780.8,93.4 L1781.0,91.8 L1781.2,90.4 L1781.4,89.3 L1781.7,88.4 L1781.9,87.7 L1782.1,87.0 L1782.3,86.5 L1782.6,86.1 L1782.8,85.8 L1783.0,85.5 L1783.2,85.3 L1783.5,85.1 L1783.7,85.0 L1783.9,84.8 L1784.1,84.7 L1784.4,84.7 L1784.6,84.6 L1784.8,84.5 L1785.1,84.5 L1785.3,84.5 L1785.5,84.4 L1785.7,84.4 L1786.0,84.4 L1786.2,84.4 L1786.4,84.4 L1786.6,84.3 L1786.9,84.3 L1787.1,84.3 L1787.3,84.3 L1787.5,84.3 L1787.8,84.3 L1788.0,84.3 L1788.2,84.3 L1788.4,84.3 L1788.7,84.3 L1788.9,84.3 L1789.1,84.3 L1789.4,84.3 L1789.6,84.3 L1789.8,84.3 L1790.0,84.3 L1790.3,84.3 L1790.5,84.3 L1790.7,84.3 L1790.9,84.3 L1791.2,84.3 L1791.4,84.3 L1791.6,84.3 L1791.8,84.3 L1792.1,84.3 L1792.3,84.3 L1792.5,84.3 L1792.7,95.7 L1793.0,107.1 L1793.2,118.5 L1793.4,129.9 L1793.7,141.3 L1793.9,152.7 L1794.1,164.1 L1794.3,175.5 L1794.6,175.2 L1794.8,174.9 L1795.0,174.7 L1795.2,174.4 L1795.5,174.2 L1795.7,173.9 L1795.9,173.7 L1796.1,173.5 L1796.4,173.3 L1796.6,173.1 L1796.8,172.8 L1797.0,172.6 L1797.3,172.4 L1797.5,172.3 L1797.7,172.1 L1798.0,171.9 L1798.2,171.7 L1798.4,171.5 L1798.6,171.4 L1798.9,171.2 L1799.1,171.0 L1799.3,170.9 L1799.5,170.7 L1799.8,170.6 L1800.0,170.4 L1800.2,170.3 L1800.4,170.2 L1800.7,170.0 L1800.9,169.9 L1801.1,169.8 L1801.3,169.7 L1801.6,169.5 L1801.8,169.4 L1802.0,169.3 L1802.2,169.2 L1802.5,169.1 L1802.7,169.0 L1802.9,168.9 L1803.2,168.8 L1803.4,168.7 L1803.6,168.6 L1803.8,168.5 L1804.1,168.4 L1804.3,168.3 L1804.5,168.2 L1804.7,168.2 L1805.0,168.1 L1805.2,168.0 L1805.4,167.9 L1805.6,167.9 L1805.9,167.8 L1806.1,167.7 L1806.3,167.6 L1806.5,167.6 L1806.8,167.5 L1807.0,167.4 L1807.2,167.4 L1807.5,167.3 L1807.7,167.3 L1807.9,167.2 L1808.1,167.2 L1808.4,167.1 L1808.6,167.0 L1808.8,167.0 L1809.0,166.9 L1809.3,166.9 L1809.5,166.9 L1809.7,166.8 L1809.9,166.8 L1810.2,166.7 L1810.4,166.7 L1810.6,166.6 L1810.8,166.6 L1811.1,166.6 L1811.3,166.5 L1811.5,166.5 L1811.8,166.4 L1812.0,166.4 L1812.2,166.4 L1812.4,166.3 L1812.7,166.3 L1812.9,166.3 L1813.1,166.2 L1813.3,166.2 L1813.6,166.2 L1813.8,166.1 L1814.0,166.1 L1814.2,166.1 L1814.5,166.1 L1814.7,166.0 L1814.9,166.0 L1815.1,166.0 L1815.4,166.0 L1815.6,165.9 L1815.8,165.9 L1816.1,165.9 L1816.3,165.9 L1816.5,165.9 L1816.7,165.8 L1817.0,165.8 L1817.2,165.8 L1817.4,165.8 L1817.6,165.8 L1817.9,165.7 L1818.1,165.7 L1818.3,151.8 L1818.5,139.6 L1818.8,129.6 L1819.0,121.4 L1819.2,114.6 L1819.4,109.1 L1819.7,104.6 L1819.9,100.9 L1820.1,97.9 L1820.3,95.5 L1820.6,93.4 L1820.8,91.8 L1821.0,90.4 L1821.3,89.3 L1821.5,88.4 L1821.7,87.7 L1821.9,87.0 L1822.2,86.5 L1822.4,86.1 L1822.6,85.8 L1822.8,85.5 L1823.1,85.3 L1823.3,85.1 L1823.5,85.0 L1823.7,84.8 L1824.0,84.7 L1824.2,84.7 L1824.4,84.6 L1824.6,84.5 L1824.9,84.5 L1825.1,84.5 L1825.3,84.4 L1825.6,84.4 L1825.8,84.4 L1826.0,84.4 L1826.2,84.4 L1826.5,84.3 L1826.7,84.3 L1826.9,84.3 L1827.1,84.3 L1827.4,84.3 L1827.6,84.3 L1827.8,84.3 L1828.0,84.3 L1828.3,84.3 L1828.5,84.3 L1828.7,84.3 L1828.9,84.3 L1829.2,84.3 L1829.4,84.3 L1829.6,84.3 L1829.9,84.3 L1830.1,84.3 L1830.3,84.3 L1830.5,84.3 L1830.8,84.3 L1831.0,84.3 L1831.2,84.3 L1831.4,84.3 L1831.7,84.3 L1831.9,84.3 L1832.1,84.3 L1832.3,84.3 L1832.6,84.3 L1832.8,84.3 L1833.0,84.3 L1833.2,84.3 L1833.5,84.3 L1833.7,84.3 L1833.9,84.3 L1834.2,84.3 L1834.4,84.3 L1834.6,84.3 L1834.8,95.7 L1835.1,107.1 L1835.3,118.5 L1835.5,129.9 L1835.7,141.3 L1836.0,152.7 L1836.2,164.1 L1836.4,175.5 L1836.6,175.2 L1836.9,174.9 L1837.1,174.7 L1837.3,174.4 L1837.5,174.2 L1837.8,173.9 L1838.0,173.7 L1838.2,173.5 L1838.4,173.3 L1838.7,173.1 L1838.9,172.8 L1839.1,172.6 L1839.4,172.4 L1839.6,172.3 L1839.8,172.1 L1840.0,171.9 L1840.3,171.7 L1840.5,171.5 L1840.7,171.4 L1840.9,171.2 L1841.2,171.0 L1841.4,170.9 L1841.6,170.7 L1841.8,170.6 L1842.1,170.4 L1842.3,170.3 L1842.5,170.2 L1842.7,170.0 L1843.0,169.9 L1843.2,169.8 L1843.4,169.7 L1843.7,169.5 L1843.9,169.4 L1844.1,169.3 L1844.3,169.2 L1844.6,169.1 L1844.8,169.0 L1845.0,168.9 L1845.2,168.8 L1845.5,168.7 L1845.7,168.6 L1845.9,168.5 L1846.1,168.4 L1846.4,168.3 L1846.6,168.2 L1846.8,168.2 L1847.0,168.1 L1847.3,168.0 L1847.5,167.9 L1847.7,167.9 L1848.0,167.8 L1848.2,167.7 L1848.4,167.6 L1848.6,167.6 L1848.9,167.5 L1849.1,167.4 L1849.3,167.4 L1849.5,167.3 L1849.8,167.3 L1850.0,167.2 L1850.2,167.2 L1850.4,167.1 L1850.7,167.0 L1850.9,167.0 L1851.1,166.9 L1851.3,166.9 L1851.6,166.9 L1851.8,166.8 L1852.0,166.8 L1852.3,166.7 L1852.5,166.7 L1852.7,166.6 L1852.9,166.6 L1853.2,166.6 L1853.4,166.5 L1853.6,166.5 L1853.8,166.4 L1854.1,166.4 L1854.3,166.4 L1854.5,166.3 L1854.7,166.3 L1855.0,166.3 L1855.2,166.2 L1855.4,166.2 L1855.6,166.2 L1855.9,166.1 L1856.1,166.1 L1856.3,166.1 L1856.5,166.1 L1856.8,166.0 L1857.0,166.0 L1857.2,166.0 L1857.5,166.0 L1857.7,165.9 L1857.9,165.9 L1858.1,151.8 L1858.4,139.6 L1858.6,129.6 L1858.8,121.4 L1859.0,114.6 L1859.3,109.1 L1859.5,104.6 L1859.7,100.9 L1859.9,97.9 L1860.2,95.5 L1860.4,93.4 L1860.6,91.8 L1860.8,90.4 L1861.1,89.3 L1861.3,88.4 L1861.5,87.7 L1861.8,87.0 L1862.0,86.5 L1862.2,86.1 L1862.4,85.8 L1862.7,85.5 L1862.9,85.3 L1863.1,85.1 L1863.3,85.0 L1863.6,84.8 L1863.8,84.7 L1864.0,84.7 L1864.2,84.6 L1864.5,84.5 L1864.7,84.5 L1864.9,84.5 L1865.1,84.4 L1865.4,84.4 L1865.6,84.4 L1865.8,84.4 L1866.1,84.4 L1866.3,84.3 L1866.5,84.3 L1866.7,84.3 L1867.0,84.3 L1867.2,84.3 L1867.4,84.3 L1867.6,84.3 L1867.9,84.3 L1868.1,84.3 L1868.3,84.3 L1868.5,84.3 L1868.8,84.3 L1869.0,84.3 L1869.2,84.3 L1869.4,84.3 L1869.7,84.3 L1869.9,84.3 L1870.1,84.3 L1870.4,84.3 L1870.6,84.3 L1870.8,84.3 L1871.0,84.3 L1871.3,84.3 L1871.5,84.3 L1871.7,84.3 L1871.9,84.3 L1872.2,84.3 L1872.4,84.3 L1872.6,84.3 L1872.8,84.3 L1873.1,84.3 L1873.3,84.3 L1873.5,84.3 L1873.7,84.3 L1874.0,84.3 L1874.2,84.3 L1874.4,84.3 L1874.6,84.3 L1874.9,84.3 L1875.1,95.7 L1875.3,107.1 L1875.6,118.5 L1875.8,129.9 L1876.0,141.3 L1876.2,152.7 L1876.5,164.1 L1876.7,175.5 L1876.9,175.2 L1877.1,174.9 L1877.4,174.7 L1877.6,174.4 L1877.8,174.2 L1878.0,173.9 L1878.3,173.7 L1878.5,173.5 L1878.7,173.3 L1878.9,173.1 L1879.2,172.8 L1879.4,172.6 L1879.6,172.4 L1879.9,172.3 L1880.1,172.1 L1880.3,171.9 L1880.5,171.7 L1880.8,171.5 L1881.0,171.4 L1881.2,171.2 L1881.4,171.0 L1881.7,170.9 L1881.9,170.7 L1882.1,170.6 L1882.3,170.4 L1882.6,170.3 L1882.8,170.2 L1883.0,170.0 L1883.2,169.9 L1883.5,169.8 L1883.7,169.7 L1883.9,169.5 L1884.2,169.4 L1884.4,169.3 L1884.6,169.2 L1884.8,169.1 L1885.1,169.0 L1885.3,168.9 L1885.5,168.8 L1885.7,168.7 L1886.0,168.6 L1886.2,168.5 L1886.4,168.4 L1886.6,168.3 L1886.9,168.2 L1887.1,168.2 L1887.3,168.1 L1887.5,168.0 L1887.8,167.9 L1888.0,167.9 L1888.2,167.8 L1888.5,167.7 L1888.7,167.6 L1888.9,167.6 L1889.1,167.5 L1889.4,167.4 L1889.6,167.4 L1889.8,167.3 L1890.0,167.3 L1890.3,167.2 L1890.5,167.2 L1890.7,167.1 L1890.9,167.0 L1891.2,167.0 L1891.4,166.9 L1891.6,166.9 L1891.8,166.9 L1892.1,166.8 L1892.3,166.8 L1892.5,166.7 L1892.7,166.7" fill="none" stroke="#1a1aff" stroke-width="1.4" stroke-linejoin="round" />
<line x1="1793.2" y1="178.4" x2="1793.2" y2="174.9" stroke="#000" stroke-width="1.2" />
<line x1="1838.5" y1="178.4" x2="1838.5" y2="174.9" stroke="#000" stroke-width="1.2" />
<line x1="1883.7" y1="178.4" x2="1883.7" y2="174.9" stroke="#000" stroke-width="1.2" />
<line x1="1770.6" y1="178.4" x2="1770.6" y2="176.4" stroke="#000" stroke-width="1.2" />
<line x1="1815.8" y1="178.4" x2="1815.8" y2="176.4" stroke="#000" stroke-width="1.2" />
<line x1="1861.1" y1="178.4" x2="1861.1" y2="176.4" stroke="#000" stroke-width="1.2" />
<line x1="1761.3" y1="166.8" x2="1764.8" y2="166.8" stroke="#000" stroke-width="1.2" />
<line x1="1761.3" y1="143.7" x2="1764.8" y2="143.7" stroke="#000" stroke-width="1.2" />
<line x1="1761.3" y1="120.6" x2="1764.8" y2="120.6" stroke="#000" stroke-width="1.2" />
<line x1="1761.3" y1="97.6" x2="1764.8" y2="97.6" stroke="#000" stroke-width="1.2" />
<line x1="1761.3" y1="74.5" x2="1764.8" y2="74.5" stroke="#000" stroke-width="1.2" />
<line x1="1761.3" y1="155.3" x2="1763.3" y2="155.3" stroke="#000" stroke-width="1.2" />
<line x1="1761.3" y1="132.2" x2="1763.3" y2="132.2" stroke="#000" stroke-width="1.2" />
<line x1="1761.3" y1="109.1" x2="1763.3" y2="109.1" stroke="#000" stroke-width="1.2" />
<line x1="1761.3" y1="86" x2="1763.3" y2="86" stroke="#000" stroke-width="1.2" />
<text x="1759.2" y="170.1" font-family="'Liberation Serif','Times New Roman',serif" font-size="9.5" font-weight="bold" fill="#000" text-anchor="end" >0</text>
<text x="1759.2" y="147" font-family="'Liberation Serif','Times New Roman',serif" font-size="9.5" font-weight="bold" fill="#000" text-anchor="end" >20</text>
<text x="1759.2" y="123.9" font-family="'Liberation Serif','Times New Roman',serif" font-size="9.5" font-weight="bold" fill="#000" text-anchor="end" >40</text>
<text x="1759.2" y="100.9" font-family="'Liberation Serif','Times New Roman',serif" font-size="9.5" font-weight="bold" fill="#000" text-anchor="end" >60</text>
<text x="1759.2" y="77.8" font-family="'Liberation Serif','Times New Roman',serif" font-size="9.5" font-weight="bold" fill="#000" text-anchor="end" >80</text>
<text x="1793.2" y="188.6" font-family="'Liberation Serif','Times New Roman',serif" font-size="9.5" font-weight="bold" fill="#000" text-anchor="middle" >9865</text>
<text x="1838.5" y="188.6" font-family="'Liberation Serif','Times New Roman',serif" font-size="9.5" font-weight="bold" fill="#000" text-anchor="middle" >9875</text>
<text x="1883.7" y="188.6" font-family="'Liberation Serif','Times New Roman',serif" font-size="9.5" font-weight="bold" fill="#000" text-anchor="middle" >9885</text>
<text x="1827.3" y="198.9" font-family="'Liberation Serif','Times New Roman',serif" font-size="11" font-weight="bold" fill="#000" text-anchor="middle" >Time (s)</text>
<text transform="translate(1746.2,118.2) rotate(-90)" font-family="'Liberation Serif','Times New Roman',serif" font-size="10.5" font-weight="bold" fill="#000" text-anchor="middle" >ΔR/R<tspan dy="2.2" font-size="7.5">0</tspan><tspan dy="-2.2"> (%)</tspan></text>
<line x1="730.4" y1="747.6" x2="730.4" y2="739.4" stroke="#000" stroke-width="2" />
<line x1="777.9" y1="747.6" x2="777.9" y2="739.4" stroke="#000" stroke-width="2" />
<line x1="825.4" y1="747.6" x2="825.4" y2="739.4" stroke="#000" stroke-width="2" />
<line x1="872.9" y1="747.6" x2="872.9" y2="739.4" stroke="#000" stroke-width="2" />
<line x1="920.4" y1="747.6" x2="920.4" y2="739.4" stroke="#000" stroke-width="2" />
<line x1="967.9" y1="747.6" x2="967.9" y2="739.4" stroke="#000" stroke-width="2" />
<line x1="1015.4" y1="747.6" x2="1015.4" y2="739.4" stroke="#000" stroke-width="2" />
<line x1="706.6" y1="747.6" x2="706.6" y2="743.6" stroke="#000" stroke-width="2" />
<line x1="754.1" y1="747.6" x2="754.1" y2="743.6" stroke="#000" stroke-width="2" />
<line x1="801.6" y1="747.6" x2="801.6" y2="743.6" stroke="#000" stroke-width="2" />
<line x1="849.1" y1="747.6" x2="849.1" y2="743.6" stroke="#000" stroke-width="2" />
<line x1="896.6" y1="747.6" x2="896.6" y2="743.6" stroke="#000" stroke-width="2" />
<line x1="944.1" y1="747.6" x2="944.1" y2="743.6" stroke="#000" stroke-width="2" />
<line x1="991.6" y1="747.6" x2="991.6" y2="743.6" stroke="#000" stroke-width="2" />
<line x1="1039.2" y1="747.6" x2="1039.2" y2="743.6" stroke="#000" stroke-width="2" />
<line x1="701" y1="735.1" x2="709.2" y2="735.1" stroke="#000" stroke-width="2" />
<line x1="701" y1="691.2" x2="709.2" y2="691.2" stroke="#000" stroke-width="2" />
<line x1="701" y1="647.3" x2="709.2" y2="647.3" stroke="#000" stroke-width="2" />
<line x1="701" y1="603.4" x2="709.2" y2="603.4" stroke="#000" stroke-width="2" />
<line x1="701" y1="559.5" x2="709.2" y2="559.5" stroke="#000" stroke-width="2" />
<line x1="701" y1="515.6" x2="709.2" y2="515.6" stroke="#000" stroke-width="2" />
<line x1="701" y1="471.7" x2="709.2" y2="471.7" stroke="#000" stroke-width="2" />
<line x1="701" y1="713.1" x2="705" y2="713.1" stroke="#000" stroke-width="2" />
<line x1="701" y1="669.2" x2="705" y2="669.2" stroke="#000" stroke-width="2" />
<line x1="701" y1="625.4" x2="705" y2="625.4" stroke="#000" stroke-width="2" />
<line x1="701" y1="581.5" x2="705" y2="581.5" stroke="#000" stroke-width="2" />
<line x1="701" y1="537.5" x2="705" y2="537.5" stroke="#000" stroke-width="2" />
<line x1="701" y1="493.6" x2="705" y2="493.6" stroke="#000" stroke-width="2" />
<circle cx="718.5" cy="497.0" r="5" fill="#000"/>
<circle cx="730.4" cy="511.3" r="5" fill="#000"/>
<circle cx="742.3" cy="524.7" r="5" fill="#000"/>
<circle cx="754.1" cy="538.1" r="5" fill="#000"/>
<circle cx="766.0" cy="550.5" r="5" fill="#000"/>
<circle cx="777.9" cy="563.5" r="5" fill="#000"/>
<circle cx="789.8" cy="574.9" r="5" fill="#000"/>
<circle cx="801.6" cy="586.9" r="5" fill="#000"/>
<circle cx="813.5" cy="598.4" r="5" fill="#000"/>
<circle cx="825.4" cy="608.4" r="5" fill="#000"/>
<circle cx="837.3" cy="618.4" r="5" fill="#000"/>
<circle cx="849.1" cy="628.5" r="5" fill="#000"/>
<circle cx="861.0" cy="637.1" r="5" fill="#000"/>
<circle cx="872.9" cy="646.2" r="5" fill="#000"/>
<circle cx="884.8" cy="653.8" r="5" fill="#000"/>
<circle cx="896.6" cy="661.0" r="5" fill="#000"/>
<circle cx="908.5" cy="667.7" r="5" fill="#000"/>
<circle cx="920.4" cy="674.4" r="5" fill="#000"/>
<circle cx="932.3" cy="680.6" r="5" fill="#000"/>
<circle cx="944.1" cy="686.3" r="5" fill="#000"/>
<circle cx="956.0" cy="691.6" r="5" fill="#000"/>
<circle cx="967.9" cy="696.4" r="5" fill="#000"/>
<circle cx="979.8" cy="701.6" r="5" fill="#000"/>
<circle cx="991.6" cy="705.9" r="5" fill="#000"/>
<circle cx="1003.5" cy="710.3" r="5" fill="#000"/>
<circle cx="1015.4" cy="714.1" r="5" fill="#000"/>
<circle cx="1027.3" cy="717.9" r="5" fill="#000"/>
<rect x="701" y="460.5" width="343.8" height="287.1" fill="none" stroke="#000" stroke-width="2"/>
<text x="690.9" y="741.4" font-family="'Liberation Serif','Times New Roman',serif" font-size="18.5" font-weight="bold" fill="#000" text-anchor="end" >600</text>
<text x="690.9" y="697.5" font-family="'Liberation Serif','Times New Roman',serif" font-size="18.5" font-weight="bold" fill="#000" text-anchor="end" >800</text>
<text x="690.9" y="653.6" font-family="'Liberation Serif','Times New Roman',serif" font-size="18.5" font-weight="bold" fill="#000" text-anchor="end" >1000</text>
<text x="690.9" y="609.7" font-family="'Liberation Serif','Times New Roman',serif" font-size="18.5" font-weight="bold" fill="#000" text-anchor="end" >1200</text>
<text x="690.9" y="565.8" font-family="'Liberation Serif','Times New Roman',serif" font-size="18.5" font-weight="bold" fill="#000" text-anchor="end" >1400</text>
<text x="690.9" y="521.9" font-family="'Liberation Serif','Times New Roman',serif" font-size="18.5" font-weight="bold" fill="#000" text-anchor="end" >1600</text>
<text x="690.9" y="478" font-family="'Liberation Serif','Times New Roman',serif" font-size="18.5" font-weight="bold" fill="#000" text-anchor="end" >1800</text>
<text x="730.4" y="771.5" font-family="'Liberation Serif','Times New Roman',serif" font-size="18.5" font-weight="bold" fill="#000" text-anchor="middle" >-120</text>
<text x="777.9" y="771.5" font-family="'Liberation Serif','Times New Roman',serif" font-size="18.5" font-weight="bold" fill="#000" text-anchor="middle" >-80</text>
<text x="825.4" y="771.5" font-family="'Liberation Serif','Times New Roman',serif" font-size="18.5" font-weight="bold" fill="#000" text-anchor="middle" >-40</text>
<text x="872.9" y="771.5" font-family="'Liberation Serif','Times New Roman',serif" font-size="18.5" font-weight="bold" fill="#000" text-anchor="middle" >0</text>
<text x="920.4" y="771.5" font-family="'Liberation Serif','Times New Roman',serif" font-size="18.5" font-weight="bold" fill="#000" text-anchor="middle" >40</text>
<text x="967.9" y="771.5" font-family="'Liberation Serif','Times New Roman',serif" font-size="18.5" font-weight="bold" fill="#000" text-anchor="middle" >80</text>
<text x="1015.4" y="771.5" font-family="'Liberation Serif','Times New Roman',serif" font-size="18.5" font-weight="bold" fill="#000" text-anchor="middle" >120</text>
<text x="871.8" y="797.8" font-family="'Liberation Serif','Times New Roman',serif" font-size="22.2" font-weight="bold" fill="#000" text-anchor="middle" >Temperature (°C)</text>
<text transform="translate(646,603.7) rotate(-90)" font-family="'Liberation Serif','Times New Roman',serif" font-size="22.2" font-weight="bold" fill="#000" text-anchor="middle" >Resistance (Ω)</text>
<rect x="872.7" y="460.5" width="172.1" height="142.8" fill="#fff" stroke="#000" stroke-width="2"/>
<path d="M883.4,598.6 L1033.9,470.2" fill="none" stroke="#ee1111" stroke-width="2" stroke-linejoin="round" />
<rect x="882.7" y="595.5" width="3.8" height="3.8" fill="#000"/>
<rect x="887.0" y="592.1" width="3.8" height="3.8" fill="#000"/>
<rect x="891.4" y="588.7" width="3.8" height="3.8" fill="#000"/>
<rect x="895.9" y="584.9" width="3.8" height="3.8" fill="#000"/>
<rect x="900.6" y="581.2" width="3.8" height="3.8" fill="#000"/>
<rect x="905.3" y="576.9" width="3.8" height="3.8" fill="#000"/>
<rect x="910.3" y="572.9" width="3.8" height="3.8" fill="#000"/>
<rect x="915.3" y="568.3" width="3.8" height="3.8" fill="#000"/>
<rect x="920.5" y="563.5" width="3.8" height="3.8" fill="#000"/>
<rect x="925.7" y="559.0" width="3.8" height="3.8" fill="#000"/>
<rect x="931.1" y="554.1" width="3.8" height="3.8" fill="#000"/>
<rect x="936.6" y="548.8" width="3.8" height="3.8" fill="#000"/>
<rect x="942.3" y="543.8" width="3.8" height="3.8" fill="#000"/>
<rect x="948.0" y="538.2" width="3.8" height="3.8" fill="#000"/>
<rect x="953.8" y="533.1" width="3.8" height="3.8" fill="#000"/>
<rect x="959.7" y="528.0" width="3.8" height="3.8" fill="#000"/>
<rect x="965.8" y="522.9" width="3.8" height="3.8" fill="#000"/>
<rect x="971.9" y="517.4" width="3.8" height="3.8" fill="#000"/>
<rect x="978.2" y="512.0" width="3.8" height="3.8" fill="#000"/>
<rect x="984.5" y="506.7" width="3.8" height="3.8" fill="#000"/>
<rect x="990.9" y="501.4" width="3.8" height="3.8" fill="#000"/>
<rect x="997.4" y="496.4" width="3.8" height="3.8" fill="#000"/>
<rect x="1004.0" y="490.6" width="3.8" height="3.8" fill="#000"/>
<rect x="1010.8" y="485.5" width="3.8" height="3.8" fill="#000"/>
<rect x="1017.5" y="480.0" width="3.8" height="3.8" fill="#000"/>
<rect x="1024.4" y="475.1" width="3.8" height="3.8" fill="#000"/>
<rect x="1031.4" y="469.8" width="3.8" height="3.8" fill="#000"/>
<line x1="891.3" y1="603.3" x2="891.3" y2="599.3" stroke="#000" stroke-width="1.5" />
<line x1="937.9" y1="603.3" x2="937.9" y2="599.3" stroke="#000" stroke-width="1.5" />
<line x1="984.5" y1="603.3" x2="984.5" y2="599.3" stroke="#000" stroke-width="1.5" />
<line x1="1031.1" y1="603.3" x2="1031.1" y2="599.3" stroke="#000" stroke-width="1.5" />
<line x1="914.6" y1="603.3" x2="914.6" y2="600.8" stroke="#000" stroke-width="1.5" />
<line x1="961.2" y1="603.3" x2="961.2" y2="600.8" stroke="#000" stroke-width="1.5" />
<line x1="1007.8" y1="603.3" x2="1007.8" y2="600.8" stroke="#000" stroke-width="1.5" />
<line x1="872.7" y1="596.5" x2="876.7" y2="596.5" stroke="#000" stroke-width="1.5" />
<line x1="872.7" y1="568" x2="876.7" y2="568" stroke="#000" stroke-width="1.5" />
<line x1="872.7" y1="539.4" x2="876.7" y2="539.4" stroke="#000" stroke-width="1.5" />
<line x1="872.7" y1="510.9" x2="876.7" y2="510.9" stroke="#000" stroke-width="1.5" />
<line x1="872.7" y1="482.3" x2="876.7" y2="482.3" stroke="#000" stroke-width="1.5" />
<line x1="872.7" y1="582.2" x2="875.2" y2="582.2" stroke="#000" stroke-width="1.5" />
<line x1="872.7" y1="553.7" x2="875.2" y2="553.7" stroke="#000" stroke-width="1.5" />
<line x1="872.7" y1="525.1" x2="875.2" y2="525.1" stroke="#000" stroke-width="1.5" />
<line x1="872.7" y1="496.6" x2="875.2" y2="496.6" stroke="#000" stroke-width="1.5" />
<line x1="872.7" y1="468" x2="875.2" y2="468" stroke="#000" stroke-width="1.5" />
<text x="867.2" y="600.5" font-family="'Liberation Serif','Times New Roman',serif" font-size="11.5" font-weight="bold" fill="#000" text-anchor="end" >0.6</text>
<text x="867.2" y="572" font-family="'Liberation Serif','Times New Roman',serif" font-size="11.5" font-weight="bold" fill="#000" text-anchor="end" >0.8</text>
<text x="867.2" y="543.4" font-family="'Liberation Serif','Times New Roman',serif" font-size="11.5" font-weight="bold" fill="#000" text-anchor="end" >1.0</text>
<text x="867.2" y="514.9" font-family="'Liberation Serif','Times New Roman',serif" font-size="11.5" font-weight="bold" fill="#000" text-anchor="end" >1.2</text>
<text x="867.2" y="486.3" font-family="'Liberation Serif','Times New Roman',serif" font-size="11.5" font-weight="bold" fill="#000" text-anchor="end" >1.4</text>
<text x="891.3" y="618.9" font-family="'Liberation Serif','Times New Roman',serif" font-size="11.5" font-weight="bold" fill="#000" text-anchor="middle" >2</text>
<text x="937.9" y="618.9" font-family="'Liberation Serif','Times New Roman',serif" font-size="11.5" font-weight="bold" fill="#000" text-anchor="middle" >4</text>
<text x="984.5" y="618.9" font-family="'Liberation Serif','Times New Roman',serif" font-size="11.5" font-weight="bold" fill="#000" text-anchor="middle" >6</text>
<text x="1031.1" y="618.9" font-family="'Liberation Serif','Times New Roman',serif" font-size="11.5" font-weight="bold" fill="#000" text-anchor="middle" >8</text>
<text x="959" y="636.3" font-family="'Liberation Serif','Times New Roman',serif" font-size="15.5" font-weight="bold" fill="#000" text-anchor="middle" >T<tspan dy="-5.5" font-size="10">3/2</tspan><tspan dy="5.5"> (×10</tspan><tspan dy="-5.5" font-size="10">3</tspan><tspan dy="5.5">K</tspan><tspan dy="-5.5" font-size="10">3/2</tspan><tspan dy="5">)</tspan></text>
<text transform="translate(846,532) rotate(-90)" font-family="'Liberation Serif','Times New Roman',serif" font-size="15.5" font-weight="bold" fill="#000" text-anchor="middle" >1/R (KΩ<tspan dy="-5.5" font-size="10">-1</tspan><tspan dy="5.5">)</tspan></text>
<rect x="892.5" y="469" width="4" height="4" fill="#000"/>
<text x="912.4" y="475.6" font-family="'Liberation Serif','Times New Roman',serif" font-size="12" font-weight="bold" fill="#000" text-anchor="start" >Date</text>
<line x1="880.9" y1="487.3" x2="909.4" y2="487.3" stroke="#ee1111" stroke-width="2" />
<text x="912.4" y="491" font-family="'Liberation Serif','Times New Roman',serif" font-size="12" font-weight="bold" fill="#000" text-anchor="start" >Fitting curve</text>
<text x="884" y="510.4" font-family="'Liberation Serif','Times New Roman',serif" font-size="12" font-weight="bold" fill="#000" text-anchor="start" >SSE: 0.00102</text>
<text x="890.8" y="527" font-family="'Liberation Serif','Times New Roman',serif" font-size="12" font-weight="bold" fill="#000" text-anchor="start" >R<tspan dy="-5" font-size="8">2</tspan><tspan dy="5"> : 0.99948</tspan></text>
<rect x="1130.5" y="461.5" width="343.3" height="285.8" fill="#eefcfd" stroke="#000" stroke-width="0"/>
<rect x="1194.2" y="461.5" width="18.7" height="285.8" fill="#fde6e7"/>
<rect x="1234.1" y="461.5" width="20.1" height="285.8" fill="#fde6e7"/>
<rect x="1275.9" y="461.5" width="21.3" height="285.8" fill="#fde6e7"/>
<rect x="1316" y="461.5" width="21.3" height="285.8" fill="#fde6e7"/>
<rect x="1357.1" y="461.5" width="24.7" height="285.8" fill="#fde6e7"/>
<rect x="1403.1" y="461.5" width="22.6" height="285.8" fill="#fde6e7"/>
<defs><clipPath id="pk"><rect x="1194.2" y="455" width="18.7" height="300"/><rect x="1234.1" y="455" width="20.1" height="300"/><rect x="1275.9" y="455" width="21.3" height="300"/><rect x="1316" y="455" width="21.3" height="300"/><rect x="1357.1" y="455" width="24.7" height="300"/><rect x="1403.1" y="455" width="22.6" height="300"/></clipPath></defs>
<path d="M1149.9,718.4 L1150.9,718.5 L1151.9,718.5 L1152.9,718.6 L1153.9,718.6 L1154.9,718.7 L1155.9,718.7 L1156.9,718.8 L1158.0,718.8 L1159.0,718.9 L1160.0,718.9 L1161.0,719.0 L1162.0,719.1 L1163.0,719.1 L1164.0,719.2 L1165.0,719.2 L1166.0,719.3 L1167.0,719.3 L1168.0,719.4 L1169.0,719.4 L1170.0,719.5 L1171.0,719.5 L1172.1,719.6 L1173.1,719.7 L1174.1,719.7 L1175.1,719.8 L1176.1,719.8 L1177.1,719.9 L1178.1,719.9 L1179.1,720.0 L1180.1,720.0 L1181.1,720.1 L1182.1,720.1 L1183.1,720.2 L1184.1,720.3 L1185.1,720.3 L1186.1,720.4 L1187.2,720.4 L1188.2,720.5 L1189.2,720.5 L1190.2,720.6 L1191.2,720.6 L1192.2,720.7 L1193.2,720.7 L1194.2,720.8 L1194.9,690.0 L1195.4,517.0 L1196.2,515.0 L1196.2,514.1 L1197.2,513.2 L1198.2,512.7 L1199.2,512.8 L1200.2,511.7 L1201.1,511.0 L1202.1,510.5 L1203.1,510.3 L1204.1,509.6 L1205.1,509.0 L1206.1,508.4 L1207.1,507.7 L1208.1,507.5 L1209.0,507.1 L1210.0,505.9 L1211.0,505.9 L1212.0,505.1 L1213.2,504.4 L1214.0,512.4 L1214.6,650.0 L1215.4,706.6 L1216.8,713.6 L1219.6,716.8 L1220.4,717.3 L1221.2,717.7 L1221.9,718.1 L1222.7,718.4 L1223.5,718.7 L1224.3,719.1 L1225.1,719.3 L1225.8,719.6 L1226.6,719.9 L1227.4,720.2 L1228.2,720.5 L1229.0,720.7 L1229.7,721.0 L1230.5,721.2 L1231.3,721.5 L1232.1,721.7 L1232.9,722.0 L1233.6,722.2 L1234.4,722.5 L1235.2,722.7 L1235.5,690.0 L1236.0,507.0 L1236.8,505.0 L1236.8,505.5 L1237.8,505.3 L1238.8,504.3 L1239.8,504.9 L1240.8,504.4 L1241.8,504.1 L1242.8,504.9 L1243.8,504.9 L1244.8,504.7 L1245.8,504.4 L1246.8,504.8 L1247.8,504.2 L1248.8,504.3 L1249.8,504.2 L1250.8,504.3 L1251.8,504.3 L1252.8,503.5 L1253.8,503.4 L1255.0,503.6 L1255.8,511.6 L1256.4,650.0 L1257.2,709.1 L1258.6,716.1 L1261.4,719.3 L1262.2,719.6 L1263.0,719.7 L1263.7,719.9 L1264.5,720.1 L1265.3,720.2 L1266.1,720.4 L1266.9,720.5 L1267.6,720.6 L1268.4,720.8 L1269.2,720.9 L1270.0,721.0 L1270.8,721.2 L1271.5,721.3 L1272.3,721.4 L1273.1,721.5 L1273.9,721.6 L1274.7,721.8 L1275.4,721.9 L1276.2,722.0 L1277.0,722.1 L1277.3,690.0 L1277.8,504.5 L1278.6,502.5 L1278.6,502.6 L1279.6,505.1 L1280.6,507.1 L1281.6,507.1 L1282.6,508.1 L1283.5,507.3 L1284.5,508.0 L1285.5,507.7 L1286.5,508.0 L1287.5,507.9 L1288.5,508.4 L1289.5,508.5 L1290.5,508.3 L1291.5,508.5 L1292.5,508.1 L1293.4,508.7 L1294.4,508.2 L1295.4,508.2 L1296.4,508.3 L1297.6,507.2 L1298.4,515.2 L1299.0,650.0 L1299.8,708.5 L1301.2,715.5 L1304.0,718.7 L1304.7,719.0 L1305.3,719.1 L1306.0,719.3 L1306.7,719.5 L1307.3,719.6 L1308.0,719.8 L1308.7,719.9 L1309.4,720.0 L1310.0,720.2 L1310.7,720.3 L1311.4,720.4 L1312.0,720.6 L1312.7,720.7 L1313.4,720.8 L1314.1,720.9 L1314.7,721.0 L1315.4,721.2 L1316.1,721.3 L1316.7,721.4 L1317.4,721.5 L1317.7,690.0 L1318.2,511.5 L1319.0,509.5 L1319.0,509.3 L1320.0,510.3 L1321.0,510.4 L1322.0,509.5 L1323.0,510.4 L1324.1,510.7 L1325.1,510.0 L1326.1,510.7 L1327.1,510.2 L1328.1,510.9 L1329.1,510.7 L1330.1,510.7 L1331.1,510.4 L1332.1,511.1 L1333.2,511.3 L1334.2,510.9 L1335.2,510.7 L1336.2,510.9 L1337.4,511.5 L1338.2,519.5 L1338.8,650.0 L1339.6,707.9 L1341.0,714.9 L1343.8,718.1 L1344.6,718.4 L1345.3,718.5 L1346.1,718.7 L1346.8,718.9 L1347.6,719.0 L1348.4,719.2 L1349.1,719.3 L1349.9,719.4 L1350.6,719.6 L1351.4,719.7 L1352.2,719.8 L1352.9,720.0 L1353.7,720.1 L1354.4,720.2 L1355.2,720.3 L1356.0,720.4 L1356.7,720.6 L1357.5,720.7 L1358.2,720.8 L1359.0,720.9 L1359.3,690.0 L1359.8,514.5 L1360.6,512.5 L1360.6,512.0 L1361.6,512.8 L1362.6,512.3 L1363.6,512.4 L1364.6,512.1 L1365.6,511.2 L1366.6,511.4 L1367.6,511.9 L1368.6,511.7 L1369.6,511.7 L1370.6,511.4 L1371.6,511.1 L1372.6,511.1 L1373.6,511.1 L1374.6,510.4 L1375.6,509.8 L1376.6,510.0 L1377.6,509.5 L1378.6,509.7 L1379.6,509.9 L1380.6,509.4 L1381.8,509.5 L1382.6,517.5 L1383.2,650.0 L1384.0,707.3 L1385.4,714.3 L1388.2,717.5 L1389.0,717.7 L1389.9,717.9 L1390.7,718.0 L1391.5,718.1 L1392.3,718.3 L1393.2,718.4 L1394.0,718.5 L1394.8,718.6 L1395.7,718.7 L1396.5,718.8 L1397.3,718.9 L1398.2,719.0 L1399.0,719.1 L1399.8,719.2 L1400.7,719.3 L1401.5,719.4 L1402.3,719.5 L1403.1,719.6 L1404.0,719.7 L1404.8,719.8 L1405.1,690.0 L1405.6,509.2 L1406.4,507.2 L1406.4,507.1 L1407.4,507.0 L1408.4,507.4 L1409.4,507.7 L1410.4,507.9 L1411.4,508.4 L1412.5,507.5 L1413.5,507.8 L1414.5,507.7 L1415.5,508.8 L1416.5,508.6 L1417.5,508.7 L1418.5,509.0 L1419.5,508.1 L1420.5,509.3 L1421.5,508.7 L1422.6,509.2 L1423.6,509.0 L1424.6,509.5 L1425.6,509.1 L1426.8,509.5 L1427.6,517.5 L1428.2,650.0 L1429.0,707.0 L1430.4,714.3 L1433.2,716.5 L1434.2,716.8 L1435.2,717.1 L1436.3,717.3 L1437.3,717.5 L1438.3,717.7 L1439.4,717.8 L1440.4,718.0 L1441.4,718.2 L1442.4,718.3 L1443.5,718.5 L1444.5,718.7 L1445.5,718.8 L1446.5,719.0 L1447.5,719.1 L1448.6,719.3 L1449.6,719.4 L1450.6,719.6 L1451.7,719.7 L1452.7,719.9 L1453.7,720.0" fill="none" stroke="#23343a" stroke-width="2" stroke-linejoin="round" />
<path d="M1149.9,718.4 L1150.9,718.5 L1151.9,718.5 L1152.9,718.6 L1153.9,718.6 L1154.9,718.7 L1155.9,718.7 L1156.9,718.8 L1158.0,718.8 L1159.0,718.9 L1160.0,718.9 L1161.0,719.0 L1162.0,719.1 L1163.0,719.1 L1164.0,719.2 L1165.0,719.2 L1166.0,719.3 L1167.0,719.3 L1168.0,719.4 L1169.0,719.4 L1170.0,719.5 L1171.0,719.5 L1172.1,719.6 L1173.1,719.7 L1174.1,719.7 L1175.1,719.8 L1176.1,719.8 L1177.1,719.9 L1178.1,719.9 L1179.1,720.0 L1180.1,720.0 L1181.1,720.1 L1182.1,720.1 L1183.1,720.2 L1184.1,720.3 L1185.1,720.3 L1186.1,720.4 L1187.2,720.4 L1188.2,720.5 L1189.2,720.5 L1190.2,720.6 L1191.2,720.6 L1192.2,720.7 L1193.2,720.7 L1194.2,720.8 L1194.9,690.0 L1195.4,517.0 L1196.2,515.0 L1196.2,514.1 L1197.2,513.2 L1198.2,512.7 L1199.2,512.8 L1200.2,511.7 L1201.1,511.0 L1202.1,510.5 L1203.1,510.3 L1204.1,509.6 L1205.1,509.0 L1206.1,508.4 L1207.1,507.7 L1208.1,507.5 L1209.0,507.1 L1210.0,505.9 L1211.0,505.9 L1212.0,505.1 L1213.2,504.4 L1214.0,512.4 L1214.6,650.0 L1215.4,706.6 L1216.8,713.6 L1219.6,716.8 L1220.4,717.3 L1221.2,717.7 L1221.9,718.1 L1222.7,718.4 L1223.5,718.7 L1224.3,719.1 L1225.1,719.3 L1225.8,719.6 L1226.6,719.9 L1227.4,720.2 L1228.2,720.5 L1229.0,720.7 L1229.7,721.0 L1230.5,721.2 L1231.3,721.5 L1232.1,721.7 L1232.9,722.0 L1233.6,722.2 L1234.4,722.5 L1235.2,722.7 L1235.5,690.0 L1236.0,507.0 L1236.8,505.0 L1236.8,505.5 L1237.8,505.3 L1238.8,504.3 L1239.8,504.9 L1240.8,504.4 L1241.8,504.1 L1242.8,504.9 L1243.8,504.9 L1244.8,504.7 L1245.8,504.4 L1246.8,504.8 L1247.8,504.2 L1248.8,504.3 L1249.8,504.2 L1250.8,504.3 L1251.8,504.3 L1252.8,503.5 L1253.8,503.4 L1255.0,503.6 L1255.8,511.6 L1256.4,650.0 L1257.2,709.1 L1258.6,716.1 L1261.4,719.3 L1262.2,719.6 L1263.0,719.7 L1263.7,719.9 L1264.5,720.1 L1265.3,720.2 L1266.1,720.4 L1266.9,720.5 L1267.6,720.6 L1268.4,720.8 L1269.2,720.9 L1270.0,721.0 L1270.8,721.2 L1271.5,721.3 L1272.3,721.4 L1273.1,721.5 L1273.9,721.6 L1274.7,721.8 L1275.4,721.9 L1276.2,722.0 L1277.0,722.1 L1277.3,690.0 L1277.8,504.5 L1278.6,502.5 L1278.6,502.6 L1279.6,505.1 L1280.6,507.1 L1281.6,507.1 L1282.6,508.1 L1283.5,507.3 L1284.5,508.0 L1285.5,507.7 L1286.5,508.0 L1287.5,507.9 L1288.5,508.4 L1289.5,508.5 L1290.5,508.3 L1291.5,508.5 L1292.5,508.1 L1293.4,508.7 L1294.4,508.2 L1295.4,508.2 L1296.4,508.3 L1297.6,507.2 L1298.4,515.2 L1299.0,650.0 L1299.8,708.5 L1301.2,715.5 L1304.0,718.7 L1304.7,719.0 L1305.3,719.1 L1306.0,719.3 L1306.7,719.5 L1307.3,719.6 L1308.0,719.8 L1308.7,719.9 L1309.4,720.0 L1310.0,720.2 L1310.7,720.3 L1311.4,720.4 L1312.0,720.6 L1312.7,720.7 L1313.4,720.8 L1314.1,720.9 L1314.7,721.0 L1315.4,721.2 L1316.1,721.3 L1316.7,721.4 L1317.4,721.5 L1317.7,690.0 L1318.2,511.5 L1319.0,509.5 L1319.0,509.3 L1320.0,510.3 L1321.0,510.4 L1322.0,509.5 L1323.0,510.4 L1324.1,510.7 L1325.1,510.0 L1326.1,510.7 L1327.1,510.2 L1328.1,510.9 L1329.1,510.7 L1330.1,510.7 L1331.1,510.4 L1332.1,511.1 L1333.2,511.3 L1334.2,510.9 L1335.2,510.7 L1336.2,510.9 L1337.4,511.5 L1338.2,519.5 L1338.8,650.0 L1339.6,707.9 L1341.0,714.9 L1343.8,718.1 L1344.6,718.4 L1345.3,718.5 L1346.1,718.7 L1346.8,718.9 L1347.6,719.0 L1348.4,719.2 L1349.1,719.3 L1349.9,719.4 L1350.6,719.6 L1351.4,719.7 L1352.2,719.8 L1352.9,720.0 L1353.7,720.1 L1354.4,720.2 L1355.2,720.3 L1356.0,720.4 L1356.7,720.6 L1357.5,720.7 L1358.2,720.8 L1359.0,720.9 L1359.3,690.0 L1359.8,514.5 L1360.6,512.5 L1360.6,512.0 L1361.6,512.8 L1362.6,512.3 L1363.6,512.4 L1364.6,512.1 L1365.6,511.2 L1366.6,511.4 L1367.6,511.9 L1368.6,511.7 L1369.6,511.7 L1370.6,511.4 L1371.6,511.1 L1372.6,511.1 L1373.6,511.1 L1374.6,510.4 L1375.6,509.8 L1376.6,510.0 L1377.6,509.5 L1378.6,509.7 L1379.6,509.9 L1380.6,509.4 L1381.8,509.5 L1382.6,517.5 L1383.2,650.0 L1384.0,707.3 L1385.4,714.3 L1388.2,717.5 L1389.0,717.7 L1389.9,717.9 L1390.7,718.0 L1391.5,718.1 L1392.3,718.3 L1393.2,718.4 L1394.0,718.5 L1394.8,718.6 L1395.7,718.7 L1396.5,718.8 L1397.3,718.9 L1398.2,719.0 L1399.0,719.1 L1399.8,719.2 L1400.7,719.3 L1401.5,719.4 L1402.3,719.5 L1403.1,719.6 L1404.0,719.7 L1404.8,719.8 L1405.1,690.0 L1405.6,509.2 L1406.4,507.2 L1406.4,507.1 L1407.4,507.0 L1408.4,507.4 L1409.4,507.7 L1410.4,507.9 L1411.4,508.4 L1412.5,507.5 L1413.5,507.8 L1414.5,507.7 L1415.5,508.8 L1416.5,508.6 L1417.5,508.7 L1418.5,509.0 L1419.5,508.1 L1420.5,509.3 L1421.5,508.7 L1422.6,509.2 L1423.6,509.0 L1424.6,509.5 L1425.6,509.1 L1426.8,509.5 L1427.6,517.5 L1428.2,650.0 L1429.0,707.0 L1430.4,714.3 L1433.2,716.5 L1434.2,716.8 L1435.2,717.1 L1436.3,717.3 L1437.3,717.5 L1438.3,717.7 L1439.4,717.8 L1440.4,718.0 L1441.4,718.2 L1442.4,718.3 L1443.5,718.5 L1444.5,718.7 L1445.5,718.8 L1446.5,719.0 L1447.5,719.1 L1448.6,719.3 L1449.6,719.4 L1450.6,719.6 L1451.7,719.7 L1452.7,719.9 L1453.7,720.0" fill="none" stroke="#3a1d1f" stroke-width="2" stroke-linejoin="round" clip-path="url(#pk)"/>
<line x1="1149.9" y1="747.3" x2="1149.9" y2="739.1" stroke="#111" stroke-width="2" />
<line x1="1210.6" y1="747.3" x2="1210.6" y2="739.1" stroke="#111" stroke-width="2" />
<line x1="1271.2" y1="747.3" x2="1271.2" y2="739.1" stroke="#111" stroke-width="2" />
<line x1="1331.9" y1="747.3" x2="1331.9" y2="739.1" stroke="#111" stroke-width="2" />
<line x1="1392.5" y1="747.3" x2="1392.5" y2="739.1" stroke="#111" stroke-width="2" />
<line x1="1453.2" y1="747.3" x2="1453.2" y2="739.1" stroke="#111" stroke-width="2" />
<line x1="1180.2" y1="747.3" x2="1180.2" y2="743.3" stroke="#111" stroke-width="2" />
<line x1="1240.9" y1="747.3" x2="1240.9" y2="743.3" stroke="#111" stroke-width="2" />
<line x1="1301.6" y1="747.3" x2="1301.6" y2="743.3" stroke="#111" stroke-width="2" />
<line x1="1362.2" y1="747.3" x2="1362.2" y2="743.3" stroke="#111" stroke-width="2" />
<line x1="1422.9" y1="747.3" x2="1422.9" y2="743.3" stroke="#111" stroke-width="2" />
<line x1="1130.5" y1="696.8" x2="1138.7" y2="696.8" stroke="#111" stroke-width="2" />
<line x1="1130.5" y1="634.8" x2="1138.7" y2="634.8" stroke="#111" stroke-width="2" />
<line x1="1130.5" y1="572.8" x2="1138.7" y2="572.8" stroke="#111" stroke-width="2" />
<line x1="1130.5" y1="510.8" x2="1138.7" y2="510.8" stroke="#111" stroke-width="2" />
<line x1="1130.5" y1="727.8" x2="1134.5" y2="727.8" stroke="#111" stroke-width="2" />
<line x1="1130.5" y1="665.8" x2="1134.5" y2="665.8" stroke="#111" stroke-width="2" />
<line x1="1130.5" y1="603.8" x2="1134.5" y2="603.8" stroke="#111" stroke-width="2" />
<line x1="1130.5" y1="541.8" x2="1134.5" y2="541.8" stroke="#111" stroke-width="2" />
<line x1="1130.5" y1="479.8" x2="1134.5" y2="479.8" stroke="#111" stroke-width="2" />
<rect x="1130.5" y="461.5" width="343.3" height="285.8" fill="none" stroke="#111" stroke-width="2"/>
<text x="1121.5" y="703.1" font-family="'Liberation Serif','Times New Roman',serif" font-size="18.5" font-weight="bold" fill="#000" text-anchor="end" >2.2</text>
<text x="1121.5" y="641.1" font-family="'Liberation Serif','Times New Roman',serif" font-size="18.5" font-weight="bold" fill="#000" text-anchor="end" >2.3</text>
<text x="1121.5" y="579.1" font-family="'Liberation Serif','Times New Roman',serif" font-size="18.5" font-weight="bold" fill="#000" text-anchor="end" >2.4</text>
<text x="1121.5" y="517.1" font-family="'Liberation Serif','Times New Roman',serif" font-size="18.5" font-weight="bold" fill="#000" text-anchor="end" >2.5</text>
<text x="1149.9" y="770.6" font-family="'Liberation Serif','Times New Roman',serif" font-size="18.5" font-weight="bold" fill="#000" text-anchor="middle" >0</text>
<text x="1210.6" y="770.6" font-family="'Liberation Serif','Times New Roman',serif" font-size="18.5" font-weight="bold" fill="#000" text-anchor="middle" >300</text>
<text x="1271.2" y="770.6" font-family="'Liberation Serif','Times New Roman',serif" font-size="18.5" font-weight="bold" fill="#000" text-anchor="middle" >600</text>
<text x="1331.9" y="770.6" font-family="'Liberation Serif','Times New Roman',serif" font-size="18.5" font-weight="bold" fill="#000" text-anchor="middle" >900</text>
<text x="1392.5" y="770.6" font-family="'Liberation Serif','Times New Roman',serif" font-size="18.5" font-weight="bold" fill="#000" text-anchor="middle" >1200</text>
<text x="1453.2" y="770.6" font-family="'Liberation Serif','Times New Roman',serif" font-size="18.5" font-weight="bold" fill="#000" text-anchor="middle" >1500</text>
<text x="1301.8" y="798.8" font-family="'Liberation Serif','Times New Roman',serif" font-size="22.1" font-weight="bold" fill="#000" text-anchor="middle" >Time (s)</text>
<text transform="translate(1089.2,603.8) rotate(-90)" font-family="'Liberation Serif','Times New Roman',serif" font-size="22.2" font-weight="bold" fill="#000" text-anchor="middle" >Electric current (mA)</text>
<text x="1149.5" y="504.9" font-family="'Liberation Serif','Times New Roman',serif" font-size="16" font-weight="bold" fill="#000" text-anchor="start" >60 °C</text>
<text x="1149.2" y="701.6" font-family="'Liberation Serif','Times New Roman',serif" font-size="16" font-weight="bold" fill="#000" text-anchor="start" >25 °C</text>
<line x1="1169.6" y1="507.1" x2="1189" y2="510.6" stroke="#9932ff" stroke-width="1.8"/>
<polygon points="1197,512.2 1186.5,506.5 1185.5,514" fill="#9932ff"/>
<line x1="1166" y1="704.7" x2="1176.5" y2="713.5" stroke="#9932ff" stroke-width="1.8"/>
<polygon points="1183,719.2 1172.8,715.6 1178.5,709.2" fill="#9932ff"/>
<path d="M1585.7,700.6 L1586.1,696.8 L1586.4,694.1 L1586.8,689.8 L1587.2,685.4 L1587.5,682.1 L1587.9,678.8 L1588.3,675.8 L1588.7,673.7 L1589.0,671.6 L1589.4,668.6 L1589.8,666.3 L1590.2,662.6 L1590.5,661.3 L1590.9,658.8 L1591.3,655.3 L1591.7,651.6 L1592.0,649.1 L1592.4,648.0 L1592.8,646.5 L1593.1,644.4 L1593.5,642.2 L1593.9,640.6 L1594.2,637.9 L1594.6,637.3 L1594.9,636.4 L1595.3,632.9 L1595.7,632.1 L1596.0,630.9 L1596.4,628.7 L1596.8,625.3 L1597.2,622.2 L1597.6,620.5 L1598.0,618.1 L1598.4,622.7 L1598.7,626.3 L1599.1,631.7 L1599.5,636.5 L1599.8,640.2 L1600.2,645.7 L1600.6,649.7 L1601.0,654.1 L1601.3,658.5 L1601.7,665.0 L1602.1,669.9 L1602.5,673.2 L1602.8,678.0 L1603.2,683.5 L1603.6,688.1 L1604.0,688.9 L1604.4,687.5 L1604.9,688.1 L1605.3,687.7 L1605.7,685.7 L1606.1,685.3 L1606.4,682.8 L1606.8,681.4 L1607.2,680.2 L1607.6,678.0 L1608.0,676.0 L1608.3,676.1 L1608.7,674.1 L1609.1,672.1 L1609.5,673.5 L1609.9,675.2 L1610.3,675.9 L1610.7,673.8 L1611.0,673.3 L1611.4,672.4 L1611.8,669.1 L1612.1,669.4 L1612.5,666.5 L1612.9,666.2 L1613.2,664.1 L1613.6,661.4 L1614.0,660.3 L1614.4,660.8 L1614.7,660.0 L1615.1,658.6 L1615.5,657.1 L1615.9,656.1 L1616.2,655.6 L1616.6,654.7 L1617.0,653.7 L1617.4,651.1 L1617.7,650.9 L1618.1,649.7 L1618.5,647.5 L1618.9,644.8 L1619.2,643.8 L1619.6,643.4 L1620.0,641.5 L1620.4,641.1 L1620.7,639.1 L1621.1,637.8 L1621.5,635.2 L1621.9,634.6 L1622.2,633.6 L1622.6,632.6 L1623.0,631.4 L1623.3,628.8 L1623.7,628.1 L1624.1,627.9 L1624.4,624.8 L1624.8,623.5 L1625.2,622.5 L1625.5,622.5 L1625.9,620.4 L1626.3,620.1 L1626.6,619.1 L1627.0,617.9 L1627.4,618.8 L1627.8,622.9 L1628.1,625.8 L1628.5,628.2 L1628.9,631.3 L1629.2,633.8 L1629.6,636.0 L1630.0,639.2 L1630.4,646.0 L1630.7,652.4 L1631.1,660.3 L1631.5,669.2 L1631.8,675.3 L1632.2,683.1 L1632.6,691.4 L1632.9,698.5 L1633.3,706.1 L1633.7,704.2 L1634.1,703.0 L1634.5,700.8 L1634.8,699.8 L1635.2,698.4 L1635.6,698.0 L1636.0,696.7 L1636.4,690.6 L1636.7,686.8 L1637.1,680.6 L1637.5,676.2 L1637.8,670.4 L1638.2,666.3 L1638.5,660.6 L1638.9,657.3 L1639.3,654.3 L1639.7,653.6 L1640.0,651.0 L1640.4,649.1 L1640.8,648.5 L1641.2,645.5 L1641.5,644.3 L1641.9,642.9 L1642.3,641.9 L1642.7,639.6 L1643.0,636.4 L1643.4,635.6 L1643.8,635.0 L1644.2,633.1 L1644.5,630.3 L1644.9,628.1 L1645.3,626.8 L1645.7,626.1 L1646.0,623.2 L1646.4,623.1 L1646.8,620.0 L1647.2,619.3 L1647.5,617.6 L1647.9,614.9 L1648.3,613.8 L1648.7,611.1 L1649.0,607.4 L1649.4,605.0 L1649.8,607.8 L1650.1,611.1 L1650.5,612.2 L1650.9,609.5 L1651.2,607.7 L1651.6,605.4 L1652.0,602.6 L1652.3,601.0 L1652.7,597.0 L1653.0,595.1 L1653.4,592.5 L1653.8,596.3 L1654.2,601.2 L1654.5,605.6 L1654.9,609.8 L1655.3,615.0 L1655.7,619.8 L1656.1,624.2 L1656.4,626.9 L1656.8,631.6 L1657.2,637.2 L1657.6,640.3 L1658.0,645.4 L1658.3,650.3 L1658.7,657.3 L1659.1,661.4 L1659.5,666.3 L1659.9,663.0 L1660.2,662.2 L1660.6,659.9 L1661.0,656.7 L1661.3,654.7 L1661.7,651.4 L1662.1,648.4 L1662.4,645.6 L1662.8,643.3 L1663.2,640.5 L1663.5,638.4 L1663.9,635.2 L1664.3,634.1 L1664.7,634.8 L1665.0,633.6 L1665.4,632.4 L1665.8,630.3 L1666.2,629.4 L1666.5,628.5 L1666.9,627.9 L1667.3,625.7 L1667.7,625.1 L1668.0,624.0 L1668.4,623.6 L1668.8,621.0 L1669.2,618.7 L1669.5,618.1 L1669.9,617.7 L1670.3,614.6 L1670.7,614.1 L1671.0,611.5 L1671.4,610.4 L1671.8,609.6 L1672.2,607.0 L1672.5,606.3 L1672.9,605.1 L1673.3,601.6 L1673.6,599.3 L1674.0,596.4 L1674.3,592.1 L1674.7,590.1 L1675.1,587.0 L1675.4,583.6 L1675.8,580.5 L1676.2,583.6 L1676.6,587.2 L1677.0,590.3 L1677.3,592.5 L1677.7,596.6 L1678.1,599.9 L1678.5,602.5 L1678.9,610.3 L1679.3,615.9 L1679.7,623.3 L1680.0,630.2 L1680.4,637.2 L1680.8,643.1 L1681.2,651.1 L1681.6,646.9 L1681.9,644.9 L1682.3,641.8 L1682.7,639.3 L1683.0,636.8 L1683.4,634.1 L1683.7,629.5 L1684.1,628.0 L1684.5,624.1 L1684.8,621.3 L1685.2,617.3 L1685.6,615.4 L1686.0,610.2 L1686.3,606.6 L1686.7,602.9 L1687.1,599.0 L1687.5,595.4 L1687.8,591.7 L1688.2,588.5 L1688.6,584.4 L1689.0,584.6 L1689.3,584.4 L1689.7,583.7 L1690.1,581.8 L1690.4,581.9 L1690.8,581.3 L1691.2,580.6 L1691.5,579.3 L1691.9,578.2 L1692.3,578.8 L1692.6,577.9 L1693.0,576.6 L1693.4,576.2 L1693.8,573.7 L1694.2,574.2 L1694.5,573.3 L1694.9,572.4 L1695.3,569.4 L1695.7,569.5 L1696.1,574.2 L1696.4,577.3 L1696.8,582.8 L1697.2,586.3 L1697.5,590.9 L1697.9,594.9 L1698.2,599.9 L1698.6,605.7 L1699.0,611.1 L1699.4,617.5 L1699.7,623.8 L1700.1,628.0 L1700.5,635.5 L1700.9,641.6 L1701.2,647.0 L1701.6,652.3 L1702.0,657.9 L1702.4,655.7 L1702.7,652.9 L1703.1,649.9 L1703.5,648.1 L1703.8,645.2 L1704.2,641.7 L1704.6,638.7 L1704.9,636.7 L1705.3,634.5 L1705.6,632.8 L1706.0,631.2 L1706.3,630.2 L1706.7,628.4 L1707.0,626.2 L1707.4,625.3 L1707.8,623.6 L1708.1,621.3 L1708.5,619.4 L1708.8,618.3 L1709.2,617.5 L1709.5,616.0 L1709.9,613.5 L1710.2,612.5 L1710.6,609.9 L1710.9,609.5 L1711.3,608.1 L1711.6,607.8 L1712.0,607.0 L1712.4,604.2 L1712.8,605.1 L1713.1,602.3 L1713.5,603.0 L1713.9,602.0 L1714.3,599.3 L1714.6,598.4 L1715.0,597.1 L1715.4,597.7 L1715.8,596.3 L1716.1,595.8 L1716.5,594.4 L1716.9,591.9 L1717.2,591.3 L1717.6,588.9 L1718.0,587.4 L1718.4,586.1 L1718.7,585.2 L1719.1,582.8 L1719.5,581.9 L1719.9,580.4 L1720.2,579.4 L1720.6,577.2 L1721.0,575.6 L1721.4,574.4 L1721.7,572.7 L1722.1,571.8 L1722.5,569.2 L1722.8,568.2 L1723.2,566.7 L1723.6,566.3 L1724.0,566.1 L1724.3,564.3 L1724.7,563.2 L1725.1,562.7 L1725.4,561.2 L1725.8,558.8 L1726.2,557.5 L1726.6,557.0 L1726.9,555.1 L1727.3,554.7 L1727.7,556.9 L1728.1,561.0 L1728.5,565.1 L1728.8,567.4 L1729.2,570.5 L1729.6,575.2 L1730.0,577.3 L1730.4,587.3 L1730.8,595.2 L1731.1,604.2 L1731.5,611.9 L1731.9,620.3 L1732.3,628.2 L1732.6,636.2 L1733.0,646.6 L1733.4,653.5 L1733.8,650.9 L1734.1,650.6 L1734.5,647.5 L1734.9,645.3 L1735.2,643.9 L1735.6,641.2 L1736.0,637.9 L1736.3,635.8 L1736.7,634.3 L1737.1,632.8 L1737.5,630.2 L1737.8,628.6 L1738.2,627.5 L1738.6,624.9 L1739.0,624.9 L1739.3,623.0 L1739.7,620.3 L1740.1,619.6 L1740.4,619.0 L1740.8,617.2 L1741.1,617.4 L1741.5,617.5 L1741.8,616.1 L1742.2,616.1 L1742.5,614.4 L1742.9,615.4 L1743.2,614.1 L1743.6,613.2 L1744.0,611.4 L1744.3,611.5 L1744.7,610.1 L1745.0,610.4 L1745.4,609.2 L1745.7,608.7 L1746.1,607.2 L1746.4,605.2 L1746.8,603.9 L1747.2,602.7 L1747.6,600.3 L1747.9,599.6 L1748.3,598.8 L1748.7,596.7 L1749.1,595.5 L1749.4,592.0 L1749.8,591.6 L1750.2,589.1 L1750.6,588.9 L1750.9,586.3 L1751.3,585.2 L1751.7,583.5 L1752.0,580.2 L1752.4,578.3 L1752.7,578.0 L1753.1,576.2 L1753.4,573.5 L1753.8,570.8 L1754.1,568.9 L1754.5,568.8 L1754.8,566.7 L1755.2,564.2 L1755.5,563.0 L1755.9,561.4 L1756.2,557.8 L1756.6,557.6 L1756.9,556.3 L1757.3,554.2 L1757.7,558.7 L1758.0,562.2 L1758.4,567.1 L1758.8,570.5 L1759.1,576.4 L1759.5,580.6 L1759.8,584.5 L1760.2,588.2 L1760.6,596.8 L1761.0,605.6 L1761.3,615.1 L1761.7,622.4 L1762.1,631.6 L1762.5,638.4 L1762.8,646.9 L1763.2,655.2 L1763.6,663.6 L1764.0,660.9 L1764.3,656.1 L1764.7,652.2 L1765.1,649.1 L1765.4,644.8 L1765.8,641.9 L1766.2,637.6 L1766.5,634.1 L1766.9,629.3 L1767.3,626.8 L1767.7,624.5 L1768.0,623.3 L1768.4,620.8 L1768.8,617.5 L1769.2,614.9 L1769.5,611.6 L1769.9,610.9 L1770.3,607.9 L1770.7,605.1 L1771.0,602.1 L1771.4,600.3 L1771.8,600.2 L1772.2,598.6 L1772.5,597.9 L1772.9,597.8 L1773.3,597.1 L1773.7,595.4 L1774.0,594.9 L1774.4,594.9 L1774.8,595.0 L1775.2,593.6 L1775.5,592.2 L1775.9,592.0 L1776.3,590.3 L1776.6,589.9 L1777.0,587.1 L1777.4,587.2 L1777.7,584.0 L1778.1,582.2 L1778.5,580.2 L1778.8,579.6 L1779.2,578.0 L1779.6,582.5 L1780.0,586.1 L1780.4,589.6 L1780.7,592.4 L1781.1,598.2 L1781.5,600.5 L1781.9,604.3 L1782.3,610.7 L1782.6,618.2 L1783.0,624.9 L1783.3,630.7 L1783.7,637.2 L1784.1,643.2 L1784.4,651.0 L1784.8,657.9 L1785.2,652.9 L1785.5,649.6 L1785.9,647.1 L1786.3,643.3 L1786.7,638.4 L1787.0,636.7 L1787.4,632.4 L1787.8,628.8 L1788.2,624.3 L1788.5,622.1 L1788.9,617.3 L1789.3,614.1 L1789.7,612.3 L1790.0,609.3 L1790.4,605.3 L1790.8,602.6 L1791.1,600.1 L1791.5,597.3 L1791.9,596.4 L1792.2,593.0 L1792.6,590.3 L1793.0,587.4 L1793.3,585.1 L1793.7,582.4 L1794.1,580.3 L1794.5,577.0 L1794.8,575.3 L1795.2,572.6 L1795.6,570.0 L1796.0,567.1 L1796.3,563.1 L1796.7,561.0 L1797.1,566.8 L1797.5,570.7 L1797.9,576.1 L1798.2,580.2 L1798.6,586.4 L1799.0,590.2 L1799.4,595.2 L1799.8,601.1 L1800.2,605.3 L1800.5,610.9 L1800.9,617.7 L1801.2,623.5 L1801.6,628.6 L1802.0,635.0 L1802.3,641.7 L1802.7,647.7 L1803.1,644.1 L1803.5,640.2 L1803.8,634.9 L1804.2,631.8 L1804.6,628.3 L1805.0,623.7 L1805.3,621.7 L1805.7,616.9 L1806.1,614.3 L1806.5,610.4 L1806.8,605.8 L1807.2,602.3 L1807.6,599.8 L1807.9,596.5 L1808.3,593.3 L1808.7,591.5 L1809.0,588.3 L1809.4,585.7 L1809.8,584.1 L1810.1,581.3 L1810.5,577.8 L1810.9,575.7 L1811.2,576.1 L1811.6,573.7 L1811.9,572.1 L1812.3,572.3 L1812.6,571.4 L1813.0,568.8 L1813.3,568.1 L1813.7,567.7 L1814.1,571.6 L1814.4,576.0 L1814.8,580.3 L1815.2,584.8 L1815.5,591.5 L1815.9,596.1 L1816.2,599.4 L1816.6,605.2 L1817.0,610.2 L1817.3,617.5 L1817.7,622.7 L1818.0,629.4 L1818.4,635.0 L1818.8,640.1 L1819.1,647.1 L1819.5,653.3 L1819.9,648.0 L1820.2,644.0 L1820.6,640.5 L1821.0,637.5 L1821.3,634.0 L1821.7,628.8 L1822.1,625.7 L1822.4,621.4 L1822.8,616.4 L1823.2,612.8 L1823.5,609.7 L1823.9,604.9 L1824.3,602.5 L1824.7,600.7 L1825.0,597.0 L1825.4,595.3 L1825.8,593.1 L1826.2,590.8 L1826.5,588.8 L1826.9,585.5 L1827.3,583.5 L1827.7,581.5 L1828.0,578.7 L1828.4,578.2 L1828.7,576.6 L1829.1,573.7 L1829.5,578.2 L1829.9,582.9 L1830.3,587.9 L1830.6,592.5 L1831.0,597.0 L1831.4,603.3 L1831.8,606.8 L1832.2,610.9 L1832.5,616.3 L1832.9,619.2 L1833.2,624.4 L1833.6,629.3 L1834.0,634.3 L1834.3,637.6 L1834.7,641.4 L1835.1,640.0 L1835.5,634.5 L1835.8,632.0 L1836.2,628.8 L1836.6,626.4 L1837.0,621.6 L1837.3,618.0 L1837.7,614.7 L1838.1,611.5 L1838.5,607.5 L1838.8,605.8 L1839.2,601.5 L1839.6,600.7 L1840.0,598.3 L1840.3,597.8 L1840.7,597.0 L1841.1,594.2 L1841.5,594.5 L1841.9,591.6 L1842.2,591.3 L1842.6,590.4 L1843.0,588.0 L1843.4,587.9 L1843.7,585.6 L1844.1,584.6 L1844.5,584.6 L1844.8,582.7 L1845.2,580.4 L1845.6,583.5 L1846.0,587.2 L1846.3,589.6 L1846.7,591.8 L1847.1,596.4 L1847.5,598.2 L1847.8,602.3 L1848.2,604.0 L1848.6,606.4 L1849.0,615.0 L1849.4,623.9 L1849.7,632.1 L1850.1,639.4 L1850.5,646.8 L1850.9,655.5 L1851.3,662.9 L1851.6,671.2 L1852.0,678.5 L1852.4,686.5 L1852.8,683.5 L1853.1,678.1 L1853.5,672.0 L1853.8,667.8 L1854.2,661.5 L1854.6,658.2 L1854.9,652.7 L1855.3,647.9 L1855.7,644.4 L1856.0,641.7 L1856.4,639.7 L1856.8,635.8 L1857.1,632.5 L1857.5,629.8 L1857.9,628.7 L1858.2,624.5 L1858.6,621.2 L1859.0,619.5 L1859.3,615.8 L1859.7,613.6 L1860.1,613.1 L1860.5,610.5 L1860.8,609.6 L1861.2,609.4 L1861.6,607.9 L1862.0,606.6 L1862.4,603.4 L1862.7,604.1 L1863.1,601.9 L1863.5,599.6 L1863.9,604.5 L1864.2,605.7 L1864.6,610.7 L1865.0,611.7 L1865.3,614.8 L1865.7,618.8 L1866.0,622.2 L1866.4,625.2 L1866.8,631.3 L1867.2,635.3 L1867.5,642.3 L1867.9,647.0 L1868.3,653.9 L1868.7,658.8 L1869.0,664.5 L1869.4,668.9 L1869.8,676.2 L1870.2,672.0 L1870.6,668.9 L1870.9,666.6 L1871.3,664.5 L1871.7,660.6 L1872.1,658.1 L1872.4,655.5 L1872.8,651.9 L1873.2,648.8 L1873.6,648.6 L1873.9,648.6 L1874.3,648.5 L1874.7,644.8 L1875.0,646.9 L1875.4,647.3 L1875.8,647.1 L1876.1,644.5 L1876.5,644.3 L1876.9,651.0 L1877.3,649.9 L1877.6,647.8 L1878.0,651.5 L1878.4,649.7 L1878.8,649.2 L1879.2,646.7 L1879.6,647.9 L1880.0,645.2 L1880.4,646.4 L1880.8,647.2 L1881.3,651.0 L1881.7,652.9 L1882.1,650.5 L1882.5,648.1 L1882.9,648.3 L1883.2,650.6 L1883.6,647.0 L1884.0,643.9 L1884.4,649.0 L1884.7,646.2 L1885.1,643.7 L1885.5,647.8 L1885.8,646.1 L1886.2,648.1 L1886.6,647.8 L1887.0,647.6 L1887.3,647.7 L1887.7,644.4 L1888.1,652.5 L1888.4,655.9 L1888.8,661.7 L1889.2,666.1 L1889.5,672.5 L1889.9,677.6" fill="none" stroke="#454545" stroke-width="2.7" stroke-linejoin="round" />
<path d="M1585.0,515.0 L1586.5,515.6 L1588.0,515.3 L1589.5,515.7 L1591.0,515.9 L1592.5,516.0 L1594.0,516.1 L1595.5,515.9 L1597.0,515.7 L1598.5,516.3 L1600.0,515.9 L1601.5,516.2 L1603.0,515.9 L1604.5,515.8 L1606.0,515.8 L1607.5,515.7 L1609.0,515.8 L1610.5,515.5 L1612.0,515.2 L1613.5,515.3 L1615.0,514.9 L1616.5,515.2 L1618.0,514.7 L1619.5,514.7 L1621.0,514.8 L1622.5,514.6 L1624.0,514.8 L1625.5,514.8 L1627.0,514.5 L1628.5,514.5 L1630.0,514.7 L1631.5,514.6 L1633.0,514.8 L1634.5,514.7 L1636.0,514.9 L1637.5,515.0 L1639.0,515.3 L1640.5,515.1 L1642.0,515.5 L1643.5,515.2 L1645.0,515.4 L1646.5,515.4 L1648.0,516.0 L1649.5,515.5 L1651.0,515.7 L1652.5,515.9 L1654.0,516.0 L1655.5,516.0 L1657.0,515.7 L1658.5,515.8 L1660.0,516.0 L1661.5,515.6 L1663.0,515.5 L1664.5,515.8 L1666.0,515.2 L1667.5,515.1 L1669.0,515.1 L1670.5,515.4 L1672.0,515.0 L1673.5,514.9 L1675.0,514.9 L1676.5,515.0 L1678.0,514.4 L1679.5,514.4 L1681.0,514.5 L1682.5,514.6 L1684.0,514.3 L1685.5,514.5 L1687.0,514.6 L1688.5,514.3 L1690.0,514.5 L1691.5,514.5 L1693.0,515.1 L1694.5,514.6 L1696.0,514.8 L1697.5,515.2 L1699.0,515.1 L1700.5,515.4 L1702.0,515.4 L1703.5,515.9 L1705.0,515.7 L1706.5,515.7 L1708.0,515.6 L1709.5,515.8 L1711.0,516.0 L1712.5,516.0 L1714.0,516.0 L1715.5,515.8 L1717.0,516.0 L1718.5,515.6 L1720.0,515.6 L1721.5,515.8 L1723.0,515.6 L1724.5,515.3 L1726.0,515.4 L1727.5,515.2 L1729.0,514.8 L1730.5,514.8 L1732.0,514.9 L1733.5,514.6 L1735.0,514.5 L1736.5,514.5 L1738.0,514.2 L1739.5,514.3 L1741.0,514.7 L1742.5,514.3 L1744.0,514.7 L1745.5,514.2 L1747.0,514.5 L1748.5,514.7 L1750.0,514.7 L1751.5,515.2 L1753.0,515.3 L1754.5,515.0 L1756.0,515.0 L1757.5,515.6 L1759.0,515.6 L1760.5,515.6 L1762.0,515.4 L1763.5,515.4 L1765.0,515.9 L1766.5,515.9 L1768.0,515.8 L1769.5,515.7 L1771.0,515.7 L1772.5,515.7 L1774.0,515.6 L1775.5,515.7 L1777.0,515.5 L1778.5,515.3 L1780.0,515.2 L1781.5,515.3 L1783.0,515.4 L1784.5,514.8 L1786.0,515.0 L1787.5,514.8 L1789.0,514.5 L1790.5,514.4 L1792.0,514.7 L1793.5,514.2 L1795.0,514.2 L1796.5,514.1 L1798.0,514.6 L1799.5,514.3 L1801.0,514.2 L1802.5,514.4 L1804.0,514.6 L1805.5,514.7 L1807.0,514.6 L1808.5,515.1 L1810.0,515.1 L1811.5,515.0 L1813.0,515.1 L1814.5,515.2 L1816.0,515.1 L1817.5,515.6 L1819.0,515.5 L1820.5,515.8 L1822.0,515.9 L1823.5,515.6 L1825.0,515.6 L1826.5,515.7 L1828.0,515.7 L1829.5,515.4 L1831.0,515.6 L1832.5,515.4 L1834.0,515.2 L1835.5,515.5 L1837.0,515.4 L1838.5,515.1 L1840.0,514.7 L1841.5,515.0 L1843.0,514.7 L1844.5,514.9 L1846.0,514.7 L1847.5,514.3 L1849.0,514.6 L1850.5,514.4 L1852.0,514.3 L1853.5,514.5 L1855.0,514.2 L1856.5,514.2 L1858.0,514.1 L1859.5,514.5 L1861.0,514.4 L1862.5,514.4 L1864.0,514.5 L1865.5,515.0 L1867.0,514.8 L1868.5,515.3 L1870.0,515.4 L1871.5,515.5 L1873.0,515.2 L1874.5,515.8 L1876.0,515.6 L1877.5,515.8 L1879.0,515.9 L1880.5,515.6 L1882.0,515.6 L1883.5,515.9 L1885.0,515.5 L1886.5,515.4 L1888.0,515.3 L1889.5,515.5" fill="none" stroke="#ee1111" stroke-width="2" stroke-linejoin="round" />
<line x1="1585.8" y1="746.8" x2="1585.8" y2="738.6" stroke="#000" stroke-width="2" />
<line x1="1636.2" y1="746.8" x2="1636.2" y2="738.6" stroke="#000" stroke-width="2" />
<line x1="1686.6" y1="746.8" x2="1686.6" y2="738.6" stroke="#000" stroke-width="2" />
<line x1="1737" y1="746.8" x2="1737" y2="738.6" stroke="#000" stroke-width="2" />
<line x1="1787.4" y1="746.8" x2="1787.4" y2="738.6" stroke="#000" stroke-width="2" />
<line x1="1837.8" y1="746.8" x2="1837.8" y2="738.6" stroke="#000" stroke-width="2" />
<line x1="1888.2" y1="746.8" x2="1888.2" y2="738.6" stroke="#000" stroke-width="2" />
<line x1="1611" y1="746.8" x2="1611" y2="742.8" stroke="#000" stroke-width="2" />
<line x1="1661.4" y1="746.8" x2="1661.4" y2="742.8" stroke="#000" stroke-width="2" />
<line x1="1711.8" y1="746.8" x2="1711.8" y2="742.8" stroke="#000" stroke-width="2" />
<line x1="1762.2" y1="746.8" x2="1762.2" y2="742.8" stroke="#000" stroke-width="2" />
<line x1="1812.6" y1="746.8" x2="1812.6" y2="742.8" stroke="#000" stroke-width="2" />
<line x1="1863" y1="746.8" x2="1863" y2="742.8" stroke="#000" stroke-width="2" />
<line x1="1565.7" y1="735.8" x2="1573.9" y2="735.8" stroke="#000" stroke-width="2" />
<line x1="1565.7" y1="711.9" x2="1573.9" y2="711.9" stroke="#000" stroke-width="2" />
<line x1="1565.7" y1="688" x2="1573.9" y2="688" stroke="#000" stroke-width="2" />
<line x1="1565.7" y1="664.1" x2="1573.9" y2="664.1" stroke="#000" stroke-width="2" />
<line x1="1565.7" y1="640.2" x2="1573.9" y2="640.2" stroke="#000" stroke-width="2" />
<line x1="1565.7" y1="616.3" x2="1573.9" y2="616.3" stroke="#000" stroke-width="2" />
<line x1="1565.7" y1="592.4" x2="1573.9" y2="592.4" stroke="#000" stroke-width="2" />
<line x1="1565.7" y1="568.5" x2="1573.9" y2="568.5" stroke="#000" stroke-width="2" />
<line x1="1565.7" y1="544.6" x2="1573.9" y2="544.6" stroke="#000" stroke-width="2" />
<line x1="1565.7" y1="520.7" x2="1573.9" y2="520.7" stroke="#000" stroke-width="2" />
<line x1="1565.7" y1="496.8" x2="1573.9" y2="496.8" stroke="#000" stroke-width="2" />
<line x1="1565.7" y1="472.9" x2="1573.9" y2="472.9" stroke="#000" stroke-width="2" />
<line x1="1565.7" y1="723.8" x2="1569.7" y2="723.8" stroke="#000" stroke-width="2" />
<line x1="1565.7" y1="699.9" x2="1569.7" y2="699.9" stroke="#000" stroke-width="2" />
<line x1="1565.7" y1="676" x2="1569.7" y2="676" stroke="#000" stroke-width="2" />
<line x1="1565.7" y1="652.1" x2="1569.7" y2="652.1" stroke="#000" stroke-width="2" />
<line x1="1565.7" y1="628.2" x2="1569.7" y2="628.2" stroke="#000" stroke-width="2" />
<line x1="1565.7" y1="604.3" x2="1569.7" y2="604.3" stroke="#000" stroke-width="2" />
<line x1="1565.7" y1="580.4" x2="1569.7" y2="580.4" stroke="#000" stroke-width="2" />
<line x1="1565.7" y1="556.5" x2="1569.7" y2="556.5" stroke="#000" stroke-width="2" />
<line x1="1565.7" y1="532.6" x2="1569.7" y2="532.6" stroke="#000" stroke-width="2" />
<line x1="1565.7" y1="508.8" x2="1569.7" y2="508.8" stroke="#000" stroke-width="2" />
<line x1="1565.7" y1="484.8" x2="1569.7" y2="484.8" stroke="#000" stroke-width="2" />
<line x1="1907.9" y1="734.1" x2="1899.7" y2="734.1" stroke="#000" stroke-width="2" />
<line x1="1907.9" y1="701.9" x2="1899.7" y2="701.9" stroke="#000" stroke-width="2" />
<line x1="1907.9" y1="669.7" x2="1899.7" y2="669.7" stroke="#000" stroke-width="2" />
<line x1="1907.9" y1="637.5" x2="1899.7" y2="637.5" stroke="#000" stroke-width="2" />
<line x1="1907.9" y1="605.3" x2="1899.7" y2="605.3" stroke="#000" stroke-width="2" />
<line x1="1907.9" y1="573.1" x2="1899.7" y2="573.1" stroke="#000" stroke-width="2" />
<line x1="1907.9" y1="540.9" x2="1899.7" y2="540.9" stroke="#000" stroke-width="2" />
<line x1="1907.9" y1="508.7" x2="1899.7" y2="508.7" stroke="#000" stroke-width="2" />
<line x1="1907.9" y1="476.5" x2="1899.7" y2="476.5" stroke="#000" stroke-width="2" />
<line x1="1907.9" y1="718" x2="1903.9" y2="718" stroke="#000" stroke-width="2" />
<line x1="1907.9" y1="685.8" x2="1903.9" y2="685.8" stroke="#000" stroke-width="2" />
<line x1="1907.9" y1="653.6" x2="1903.9" y2="653.6" stroke="#000" stroke-width="2" />
<line x1="1907.9" y1="621.4" x2="1903.9" y2="621.4" stroke="#000" stroke-width="2" />
<line x1="1907.9" y1="589.2" x2="1903.9" y2="589.2" stroke="#000" stroke-width="2" />
<line x1="1907.9" y1="557" x2="1903.9" y2="557" stroke="#000" stroke-width="2" />
<line x1="1907.9" y1="524.8" x2="1903.9" y2="524.8" stroke="#000" stroke-width="2" />
<line x1="1907.9" y1="492.6" x2="1903.9" y2="492.6" stroke="#000" stroke-width="2" />
<rect x="1565.7" y="461.7" width="342.2" height="285.1" fill="none" stroke="#000" stroke-width="2"/>
<text x="1557" y="742.1" font-family="'Liberation Serif','Times New Roman',serif" font-size="18.5" font-weight="bold" fill="#000" text-anchor="end" >2177</text>
<text x="1557" y="718.2" font-family="'Liberation Serif','Times New Roman',serif" font-size="18.5" font-weight="bold" fill="#000" text-anchor="end" >2178</text>
<text x="1557" y="694.3" font-family="'Liberation Serif','Times New Roman',serif" font-size="18.5" font-weight="bold" fill="#000" text-anchor="end" >2179</text>
<text x="1557" y="670.4" font-family="'Liberation Serif','Times New Roman',serif" font-size="18.5" font-weight="bold" fill="#000" text-anchor="end" >2180</text>
<text x="1557" y="646.5" font-family="'Liberation Serif','Times New Roman',serif" font-size="18.5" font-weight="bold" fill="#000" text-anchor="end" >2181</text>
<text x="1557" y="622.6" font-family="'Liberation Serif','Times New Roman',serif" font-size="18.5" font-weight="bold" fill="#000" text-anchor="end" >2182</text>
<text x="1557" y="598.7" font-family="'Liberation Serif','Times New Roman',serif" font-size="18.5" font-weight="bold" fill="#000" text-anchor="end" >2183</text>
<text x="1557" y="574.8" font-family="'Liberation Serif','Times New Roman',serif" font-size="18.5" font-weight="bold" fill="#000" text-anchor="end" >2184</text>
<text x="1557" y="550.9" font-family="'Liberation Serif','Times New Roman',serif" font-size="18.5" font-weight="bold" fill="#000" text-anchor="end" >2185</text>
<text x="1557" y="527" font-family="'Liberation Serif','Times New Roman',serif" font-size="18.5" font-weight="bold" fill="#000" text-anchor="end" >2186</text>
<text x="1557" y="503.1" font-family="'Liberation Serif','Times New Roman',serif" font-size="18.5" font-weight="bold" fill="#000" text-anchor="end" >2187</text>
<text x="1557" y="479.2" font-family="'Liberation Serif','Times New Roman',serif" font-size="18.5" font-weight="bold" fill="#000" text-anchor="end" >2188</text>
<text x="1917.7" y="740.4" font-family="'Liberation Serif','Times New Roman',serif" font-size="18.5" font-weight="bold" fill="#ff1a1a" text-anchor="start" >1.5</text>
<text x="1917.7" y="708.2" font-family="'Liberation Serif','Times New Roman',serif" font-size="18.5" font-weight="bold" fill="#ff1a1a" text-anchor="start" >1.6</text>
<text x="1917.7" y="676" font-family="'Liberation Serif','Times New Roman',serif" font-size="18.5" font-weight="bold" fill="#ff1a1a" text-anchor="start" >1.7</text>
<text x="1917.7" y="643.8" font-family="'Liberation Serif','Times New Roman',serif" font-size="18.5" font-weight="bold" fill="#ff1a1a" text-anchor="start" >1.8</text>
<text x="1917.7" y="611.6" font-family="'Liberation Serif','Times New Roman',serif" font-size="18.5" font-weight="bold" fill="#ff1a1a" text-anchor="start" >1.9</text>
<text x="1917.7" y="579.4" font-family="'Liberation Serif','Times New Roman',serif" font-size="18.5" font-weight="bold" fill="#ff1a1a" text-anchor="start" >2.0</text>
<text x="1917.7" y="547.2" font-family="'Liberation Serif','Times New Roman',serif" font-size="18.5" font-weight="bold" fill="#ff1a1a" text-anchor="start" >2.1</text>
<text x="1917.7" y="515" font-family="'Liberation Serif','Times New Roman',serif" font-size="18.5" font-weight="bold" fill="#ff1a1a" text-anchor="start" >2.2</text>
<text x="1917.7" y="482.8" font-family="'Liberation Serif','Times New Roman',serif" font-size="18.5" font-weight="bold" fill="#ff1a1a" text-anchor="start" >2.3</text>
<text x="1585.8" y="770.4" font-family="'Liberation Serif','Times New Roman',serif" font-size="18.5" font-weight="bold" fill="#000" text-anchor="middle" >0</text>
<text x="1636.2" y="770.4" font-family="'Liberation Serif','Times New Roman',serif" font-size="18.5" font-weight="bold" fill="#000" text-anchor="middle" >50</text>
<text x="1686.6" y="770.4" font-family="'Liberation Serif','Times New Roman',serif" font-size="18.5" font-weight="bold" fill="#000" text-anchor="middle" >100</text>
<text x="1737" y="770.4" font-family="'Liberation Serif','Times New Roman',serif" font-size="18.5" font-weight="bold" fill="#000" text-anchor="middle" >150</text>
<text x="1787.4" y="770.4" font-family="'Liberation Serif','Times New Roman',serif" font-size="18.5" font-weight="bold" fill="#000" text-anchor="middle" >200</text>
<text x="1837.8" y="770.4" font-family="'Liberation Serif','Times New Roman',serif" font-size="18.5" font-weight="bold" fill="#000" text-anchor="middle" >250</text>
<text x="1888.2" y="770.4" font-family="'Liberation Serif','Times New Roman',serif" font-size="18.5" font-weight="bold" fill="#000" text-anchor="middle" >300</text>
<text x="1737.2" y="798.5" font-family="'Liberation Serif','Times New Roman',serif" font-size="22.1" font-weight="bold" fill="#000" text-anchor="middle" >Time (min)</text>
<text transform="translate(1505.8,604) rotate(-90)" font-family="'Liberation Serif','Times New Roman',serif" font-size="22.2" font-weight="bold" fill="#000" text-anchor="middle" >Electric current (μA)</text>
<text transform="translate(1968,600.5) rotate(-90)" font-family="'Liberation Serif','Times New Roman',serif" font-size="22.2" font-weight="bold" fill="#000" text-anchor="middle" >Electric current (mA)</text>
<line x1="1818" y1="475.8" x2="1844.9" y2="475.8" stroke="#454545" stroke-width="2.2" />
<text x="1849" y="481.7" font-family="'Liberation Serif','Times New Roman',serif" font-size="17" font-weight="bold" fill="#000" text-anchor="start" >I (μA)</text>
<line x1="1818" y1="497.1" x2="1844.9" y2="497.1" stroke="#ee1111" stroke-width="2.2" />
<text x="1849" y="503.4" font-family="'Liberation Serif','Times New Roman',serif" font-size="17" font-weight="bold" fill="#000" text-anchor="start" >I (mA)</text>
</svg>
</body></html>
